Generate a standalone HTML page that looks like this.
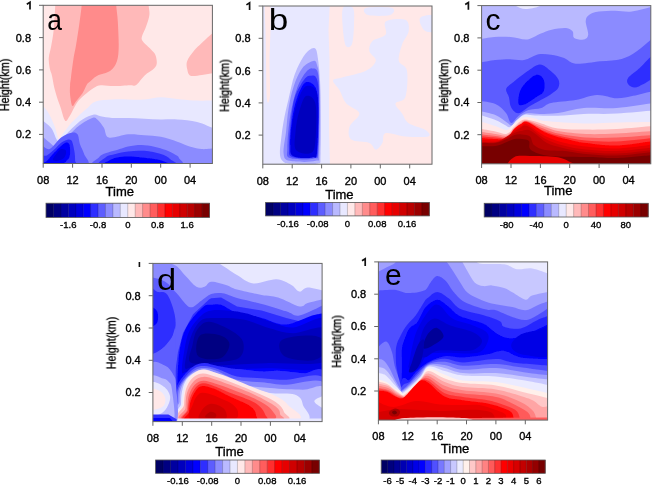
<!DOCTYPE html><html><head><meta charset="utf-8"><style>html,body{margin:0;padding:0;background:#fff;width:660px;height:487px;overflow:hidden}svg{display:block}text{font-family:"Liberation Sans",sans-serif;fill:#000;font-weight:normal;stroke:#000;stroke-width:0.35px}</style></head><body>
<svg width="660" height="487" viewBox="0 0 660 487">
<defs>
<clipPath id="cpa"><rect x="43.2" y="5.3" width="169.2" height="158.2"/></clipPath>
<clipPath id="cpb"><rect x="262.8" y="6.0" width="169.2" height="158.2"/></clipPath>
<clipPath id="cpc"><rect x="481.6" y="5.6" width="169.2" height="158.2"/></clipPath>
<clipPath id="cpd"><rect x="152.9" y="263.4" width="169.2" height="158.2"/></clipPath>
<clipPath id="cpe"><rect x="378.4" y="261.9" width="169.2" height="158.2"/></clipPath>
<filter id="bl" x="-5%" y="-5%" width="110%" height="110%"><feGaussianBlur stdDeviation="0.6"/></filter>
<filter id="tb" x="-20%" y="-20%" width="140%" height="140%"><feGaussianBlur stdDeviation="0.35"/></filter>
</defs>
<g clip-path="url(#cpa)"><g filter="url(#bl)">
<rect x="40.2" y="2.3" width="175.2" height="164.2" fill="#ffe8e8"/>
<path d="M56.0,-8.0 C40.5,-5.8 55.7,-1.3 55.3,5.0 C54.9,11.3 54.4,22.9 53.7,29.7 C53.0,36.5 52.0,41.5 51.2,46.1 C50.4,50.8 49.1,54.0 48.8,57.6 C48.5,61.2 49.1,64.5 49.6,67.5 C50.1,70.5 51.3,72.8 52.0,75.7 C52.7,78.6 53.0,81.8 53.7,85.0 C54.4,88.2 55.2,91.3 56.3,95.0 C57.4,98.7 59.0,103.0 60.5,107.3 C62.0,111.6 63.6,119.2 65.1,120.7 C66.6,122.2 67.7,119.0 69.7,116.0 C71.7,113.0 74.5,106.2 77.0,102.7 C79.5,99.2 81.6,97.5 84.4,95.0 C87.2,92.5 90.8,89.5 93.6,87.9 C96.4,86.3 97.6,85.5 101.0,85.2 C104.4,84.9 109.1,86.1 113.9,86.1 C118.7,86.1 126.3,85.4 130.0,85.2 C133.7,85.0 133.8,86.6 136.2,85.0 C138.6,83.4 141.4,78.5 144.4,75.7 C147.4,72.9 152.2,70.5 154.3,68.3 C156.4,66.1 156.7,64.9 156.8,62.6 C156.9,60.3 156.1,56.5 155.1,54.3 C154.1,52.1 153.1,51.6 151.0,49.4 C148.9,47.2 144.3,43.4 142.8,41.2 C141.3,39.0 141.4,38.7 142.0,36.2 C142.6,33.7 144.9,29.9 146.1,26.4 C147.3,22.8 149.0,18.5 149.4,14.9 C149.8,11.3 148.8,8.8 148.6,5.0 C148.4,1.2 163.4,-5.8 148.0,-8.0 C132.6,-10.2 71.5,-10.2 56.0,-8.0Z" fill="#ffb9b9"/>
<path d="M216.0,33.0 C215.5,26.3 215.3,31.4 213.0,33.0 C210.7,34.6 205.2,39.8 202.0,42.8 C198.8,45.8 196.3,48.0 193.8,51.0 C191.3,54.0 188.3,58.0 187.2,61.0 C186.1,64.0 186.6,66.5 187.2,69.0 C187.8,71.5 188.0,74.7 190.5,75.7 C193.0,76.7 198.2,75.3 202.0,74.9 C205.8,74.5 210.7,73.6 213.0,73.3 C215.3,73.0 215.5,79.7 216.0,73.0 C216.5,66.3 216.5,39.7 216.0,33.0Z" fill="#ffb9b9"/>
<path d="M82.0,-8.0 C76.3,-5.8 82.2,-0.5 81.7,5.0 C81.2,10.4 80.2,17.9 79.2,24.7 C78.2,31.5 76.9,40.3 75.9,46.1 C74.9,51.9 74.2,54.1 73.4,59.3 C72.6,64.5 71.5,73.1 71.0,77.4 C70.5,81.7 70.2,82.1 70.1,85.0 C69.9,87.9 69.7,91.4 70.1,94.9 C70.5,98.4 71.3,104.7 72.3,105.8 C73.3,106.9 74.2,103.5 75.9,101.4 C77.6,99.3 80.7,95.9 82.5,93.2 C84.3,90.5 85.5,86.8 86.6,85.0 C87.7,83.2 87.3,83.8 89.1,82.3 C90.9,80.8 93.8,77.6 97.3,75.7 C100.8,73.8 107.1,73.3 110.4,70.8 C113.7,68.3 115.6,65.0 117.0,60.9 C118.4,56.8 118.6,52.7 118.7,46.1 C118.8,39.5 118.2,28.2 117.8,21.4 C117.4,14.5 116.5,9.9 116.2,5.0 C115.9,0.1 121.7,-5.8 116.0,-8.0 C110.3,-10.2 87.7,-10.2 82.0,-8.0Z" fill="#ff8b8b"/>
<path d="M40.0,103.0 C41.3,104.5 45.5,108.2 47.9,112.0 C50.3,115.8 52.7,121.6 54.5,126.1 C56.3,130.6 57.4,137.5 58.6,139.0 C59.9,140.5 60.1,137.4 62.0,135.0 C63.9,132.6 66.9,128.1 69.7,124.8 C72.5,121.5 76.0,118.2 78.9,115.5 C81.8,112.8 84.3,110.6 87.1,108.3 C89.9,106.0 91.4,103.0 95.6,101.5 C99.8,100.0 106.7,99.8 112.1,99.5 C117.5,99.2 122.6,99.4 128.0,99.4 C133.4,99.4 138.9,99.9 144.4,99.6 C149.9,99.2 155.4,97.4 160.9,97.3 C166.4,97.2 171.8,98.5 177.3,99.0 C182.8,99.5 187.5,100.3 193.8,100.6 C200.1,100.9 211.5,100.6 215.0,100.6 L215.0,167.5 L40.0,167.5Z" fill="#e8e8ff"/>
<path d="M40.0,118.5 C41.9,120.1 48.2,124.3 51.2,128.0 C54.2,131.7 55.6,139.6 57.8,140.9 C60.0,142.2 61.9,138.2 64.4,136.0 C66.9,133.8 69.6,130.6 72.6,127.8 C75.6,125.0 78.9,121.7 82.5,119.5 C86.1,117.3 91.0,115.1 94.0,114.6 C97.0,114.1 97.6,115.8 100.6,116.3 C103.6,116.8 107.5,117.6 112.1,117.9 C116.7,118.2 122.6,117.8 128.0,117.9 C133.4,118.0 138.9,118.4 144.4,118.7 C149.9,119.0 155.4,119.4 160.9,119.5 C166.4,119.6 171.3,119.1 177.3,119.5 C183.3,119.9 190.8,120.4 197.1,122.0 C203.4,123.6 212.0,127.8 215.0,129.0 L215.0,167.5 L40.0,167.5Z" fill="#b9b9ff"/>
<path d="M40.0,134.3 C41.6,135.7 47.1,140.6 49.6,142.6 C52.1,144.6 53.3,146.3 55.0,146.5 C56.7,146.7 57.7,145.3 60.0,143.5 C62.3,141.7 65.5,138.5 68.7,135.5 C71.9,132.5 75.3,128.4 79.2,125.5 C83.1,122.6 89.3,119.0 92.3,118.0 C95.3,117.0 95.4,117.9 97.3,119.5 C99.2,121.1 102.0,124.8 103.9,127.8 C105.8,130.8 104.8,136.5 108.8,137.6 C112.8,138.7 122.1,134.7 128.0,134.3 C133.9,133.9 138.9,134.8 144.4,135.2 C149.9,135.6 155.4,135.7 160.9,136.8 C166.4,137.9 172.4,140.0 177.3,141.7 C182.2,143.3 186.4,145.5 190.5,146.7 C194.6,147.9 197.9,148.8 202.0,149.1 C206.1,149.4 212.8,148.4 215.0,148.3 L215.0,167.5 L40.0,167.5Z" fill="#8b8bff"/>
<path d="M40.0,146.0 C41.6,143.2 46.1,150.5 49.6,149.1 C53.1,147.7 57.4,140.3 61.1,137.6 C64.8,134.9 69.1,133.2 71.8,132.7 C74.5,132.1 76.1,132.4 77.5,134.3 C78.9,136.2 78.9,140.9 80.0,144.2 C81.1,147.5 83.1,150.5 84.1,154.1 C85.1,157.7 93.1,164.0 85.8,166.0 C78.5,168.0 47.6,169.3 40.0,166.0 C32.4,162.7 38.4,148.8 40.0,146.0Z" fill="#5d5dff"/>
<path d="M97.3,166.0 C84.5,164.6 97.5,159.5 98.9,157.4 C100.3,155.3 102.5,154.5 105.5,153.3 C108.5,152.1 113.2,151.1 117.0,150.0 C120.8,148.9 124.0,147.3 128.0,146.5 C132.0,145.7 136.8,145.0 141.2,145.0 C145.6,145.0 150.2,145.9 154.3,146.7 C158.4,147.5 162.5,148.8 165.8,150.0 C169.1,151.2 171.9,152.8 174.1,154.1 C176.3,155.4 178.7,156.0 179.0,158.0 C179.3,160.0 189.6,164.7 176.0,166.0 C162.4,167.3 110.1,167.4 97.3,166.0Z" fill="#5d5dff"/>
<path d="M40.0,155.7 C41.0,154.0 44.1,156.5 46.3,155.7 C48.4,154.9 50.2,153.1 52.9,150.8 C55.6,148.5 59.7,143.5 62.7,141.7 C65.7,139.9 69.1,138.6 71.0,140.1 C72.9,141.6 73.6,147.4 74.3,150.8 C75.0,154.2 75.1,158.2 75.1,160.7 C75.0,163.2 79.8,165.1 74.0,166.0 C68.2,166.9 45.7,167.7 40.0,166.0 C34.3,164.3 39.0,157.4 40.0,155.7Z" fill="#2e2eff"/>
<path d="M103.0,166.0 C91.9,164.6 103.4,159.4 105.5,157.4 C107.6,155.4 111.7,155.1 115.4,154.1 C119.2,153.1 123.2,152.1 128.0,151.6 C132.8,151.1 138.9,150.4 144.4,150.8 C149.9,151.2 156.6,152.7 160.9,154.1 C165.2,155.5 168.2,157.0 170.0,159.0 C171.8,161.0 183.2,164.8 172.0,166.0 C160.8,167.2 114.1,167.4 103.0,166.0Z" fill="#2e2eff"/>
<path d="M40.0,163.0 C41.0,162.2 44.1,163.0 46.3,161.5 C48.4,160.0 50.7,156.4 52.9,154.1 C55.1,151.8 57.2,149.4 59.4,147.5 C61.6,145.6 64.3,143.2 66.0,142.6 C67.7,142.0 68.6,142.8 69.3,144.2 C70.0,145.6 70.1,148.6 70.1,150.8 C70.1,153.0 70.2,155.4 69.3,157.4 C68.3,159.4 65.6,161.7 64.4,163.1 C63.2,164.5 66.1,165.5 62.0,166.0 C57.9,166.5 43.7,166.5 40.0,166.0 C36.3,165.5 39.0,163.8 40.0,163.0Z" fill="#0000ff"/>
<path d="M106.0,166.0 C96.5,165.1 107.0,162.1 108.8,160.7 C110.6,159.3 113.8,158.1 117.0,157.4 C120.2,156.7 124.0,156.5 128.0,156.5 C132.0,156.5 136.8,157.0 141.2,157.4 C145.6,157.8 150.5,158.3 154.3,159.0 C158.1,159.7 162.2,160.3 164.2,161.5 C166.1,162.7 175.7,165.2 166.0,166.0 C156.3,166.8 115.5,166.9 106.0,166.0Z" fill="#0000ff"/>
<path d="M56.2,154.1 C57.6,152.3 59.5,149.6 61.1,149.1 C62.7,148.6 65.5,149.4 66.0,150.8 C66.5,152.2 65.8,155.8 64.4,157.4 C63.0,159.1 59.7,160.3 57.8,160.7 C55.9,161.1 53.2,160.9 52.9,159.8 C52.6,158.7 54.8,155.9 56.2,154.1Z" fill="#0000de"/>
</g></g>
<rect x="43.2" y="5.3" width="169.2" height="158.2" fill="none" stroke="#666" stroke-width="1"/>
<line x1="43.2" y1="163.5" x2="43.2" y2="167.7" stroke="#666" stroke-width="1"/>
<text filter="url(#tb)" x="43.2" y="183.8" font-size="11" text-anchor="middle">08</text>
<line x1="72.6" y1="163.5" x2="72.6" y2="167.7" stroke="#666" stroke-width="1"/>
<text filter="url(#tb)" x="72.6" y="183.8" font-size="11" text-anchor="middle">12</text>
<line x1="102.0" y1="163.5" x2="102.0" y2="167.7" stroke="#666" stroke-width="1"/>
<text filter="url(#tb)" x="102.0" y="183.8" font-size="11" text-anchor="middle">16</text>
<line x1="131.3" y1="163.5" x2="131.3" y2="167.7" stroke="#666" stroke-width="1"/>
<text filter="url(#tb)" x="131.3" y="183.8" font-size="11" text-anchor="middle">20</text>
<line x1="160.7" y1="163.5" x2="160.7" y2="167.7" stroke="#666" stroke-width="1"/>
<text filter="url(#tb)" x="160.7" y="183.8" font-size="11" text-anchor="middle">00</text>
<line x1="190.1" y1="163.5" x2="190.1" y2="167.7" stroke="#666" stroke-width="1"/>
<text filter="url(#tb)" x="190.1" y="183.8" font-size="11" text-anchor="middle">04</text>
<line x1="39.0" y1="134.4" x2="43.2" y2="134.4" stroke="#666" stroke-width="1"/>
<text filter="url(#tb)" x="31.0" y="138.3" font-size="11" text-anchor="end">0.2</text>
<line x1="39.0" y1="102.2" x2="43.2" y2="102.2" stroke="#666" stroke-width="1"/>
<text filter="url(#tb)" x="31.0" y="106.1" font-size="11" text-anchor="end">0.4</text>
<line x1="39.0" y1="69.9" x2="43.2" y2="69.9" stroke="#666" stroke-width="1"/>
<text filter="url(#tb)" x="31.0" y="73.8" font-size="11" text-anchor="end">0.6</text>
<line x1="39.0" y1="37.6" x2="43.2" y2="37.6" stroke="#666" stroke-width="1"/>
<text filter="url(#tb)" x="31.0" y="41.5" font-size="11" text-anchor="end">0.8</text>
<line x1="39.0" y1="5.3" x2="43.2" y2="5.3" stroke="#666" stroke-width="1"/>
<path d="M26.8,4.2 L30.0,2.2 L30.0,9.4" fill="none" stroke="#111" stroke-width="1.7"/>
<text filter="url(#tb)" x="119.8" y="195.5" font-size="13" text-anchor="middle">Time</text>
<text filter="url(#tb)" x="0" y="0" font-size="12" textLength="52.5" lengthAdjust="spacingAndGlyphs" style="font-weight:normal" text-anchor="middle" transform="translate(8.9,84.9) rotate(-90)">Height(km)</text>
<text filter="url(#tb)" x="47.3" y="30.0" font-size="30" style="font-weight:normal;stroke-width:0" transform="translate(5.68,0) scale(0.88,1)">a</text>
<rect x="46.00" y="203.2" width="7.73" height="14.2" fill="#000064"/>
<rect x="53.43" y="203.2" width="7.73" height="14.2" fill="#000082"/>
<rect x="60.86" y="203.2" width="7.73" height="14.2" fill="#0000a0"/>
<rect x="68.30" y="203.2" width="7.73" height="14.2" fill="#0000be"/>
<rect x="75.73" y="203.2" width="7.73" height="14.2" fill="#0000de"/>
<rect x="83.16" y="203.2" width="7.73" height="14.2" fill="#0000ff"/>
<rect x="90.59" y="203.2" width="7.73" height="14.2" fill="#2e2eff"/>
<rect x="98.02" y="203.2" width="7.73" height="14.2" fill="#5d5dff"/>
<rect x="105.45" y="203.2" width="7.73" height="14.2" fill="#8b8bff"/>
<rect x="112.89" y="203.2" width="7.73" height="14.2" fill="#b9b9ff"/>
<rect x="120.32" y="203.2" width="7.73" height="14.2" fill="#e8e8ff"/>
<rect x="127.75" y="203.2" width="7.73" height="14.2" fill="#ffe8e8"/>
<rect x="135.18" y="203.2" width="7.73" height="14.2" fill="#ffb9b9"/>
<rect x="142.61" y="203.2" width="7.73" height="14.2" fill="#ff8b8b"/>
<rect x="150.05" y="203.2" width="7.73" height="14.2" fill="#ff5d5d"/>
<rect x="157.48" y="203.2" width="7.73" height="14.2" fill="#ff2e2e"/>
<rect x="164.91" y="203.2" width="7.73" height="14.2" fill="#ff0000"/>
<rect x="172.34" y="203.2" width="7.73" height="14.2" fill="#e60000"/>
<rect x="179.77" y="203.2" width="7.73" height="14.2" fill="#cf0000"/>
<rect x="187.20" y="203.2" width="7.73" height="14.2" fill="#b80000"/>
<rect x="194.64" y="203.2" width="7.73" height="14.2" fill="#9b0000"/>
<rect x="202.07" y="203.2" width="7.73" height="14.2" fill="#780000"/>
<line x1="53.43" y1="203.2" x2="53.43" y2="217.4" stroke="#000" stroke-opacity="0.25" stroke-width="0.8"/>
<line x1="60.86" y1="203.2" x2="60.86" y2="217.4" stroke="#000" stroke-opacity="0.25" stroke-width="0.8"/>
<line x1="68.30" y1="203.2" x2="68.30" y2="217.4" stroke="#000" stroke-opacity="0.25" stroke-width="0.8"/>
<line x1="75.73" y1="203.2" x2="75.73" y2="217.4" stroke="#000" stroke-opacity="0.25" stroke-width="0.8"/>
<line x1="83.16" y1="203.2" x2="83.16" y2="217.4" stroke="#000" stroke-opacity="0.25" stroke-width="0.8"/>
<line x1="90.59" y1="203.2" x2="90.59" y2="217.4" stroke="#000" stroke-opacity="0.25" stroke-width="0.8"/>
<line x1="98.02" y1="203.2" x2="98.02" y2="217.4" stroke="#000" stroke-opacity="0.25" stroke-width="0.8"/>
<line x1="105.45" y1="203.2" x2="105.45" y2="217.4" stroke="#000" stroke-opacity="0.25" stroke-width="0.8"/>
<line x1="112.89" y1="203.2" x2="112.89" y2="217.4" stroke="#000" stroke-opacity="0.25" stroke-width="0.8"/>
<line x1="120.32" y1="203.2" x2="120.32" y2="217.4" stroke="#000" stroke-opacity="0.25" stroke-width="0.8"/>
<line x1="127.75" y1="203.2" x2="127.75" y2="217.4" stroke="#000" stroke-opacity="0.25" stroke-width="0.8"/>
<line x1="135.18" y1="203.2" x2="135.18" y2="217.4" stroke="#000" stroke-opacity="0.25" stroke-width="0.8"/>
<line x1="142.61" y1="203.2" x2="142.61" y2="217.4" stroke="#000" stroke-opacity="0.25" stroke-width="0.8"/>
<line x1="150.05" y1="203.2" x2="150.05" y2="217.4" stroke="#000" stroke-opacity="0.25" stroke-width="0.8"/>
<line x1="157.48" y1="203.2" x2="157.48" y2="217.4" stroke="#000" stroke-opacity="0.25" stroke-width="0.8"/>
<line x1="164.91" y1="203.2" x2="164.91" y2="217.4" stroke="#000" stroke-opacity="0.25" stroke-width="0.8"/>
<line x1="172.34" y1="203.2" x2="172.34" y2="217.4" stroke="#000" stroke-opacity="0.25" stroke-width="0.8"/>
<line x1="179.77" y1="203.2" x2="179.77" y2="217.4" stroke="#000" stroke-opacity="0.25" stroke-width="0.8"/>
<line x1="187.20" y1="203.2" x2="187.20" y2="217.4" stroke="#000" stroke-opacity="0.25" stroke-width="0.8"/>
<line x1="194.64" y1="203.2" x2="194.64" y2="217.4" stroke="#000" stroke-opacity="0.25" stroke-width="0.8"/>
<line x1="202.07" y1="203.2" x2="202.07" y2="217.4" stroke="#000" stroke-opacity="0.25" stroke-width="0.8"/>
<rect x="46.0" y="203.2" width="163.5" height="14.2" fill="none" stroke="#555" stroke-width="0.8"/>
<text filter="url(#tb)" x="68.3" y="228.0" font-size="9.5" text-anchor="middle">-1.6</text>
<text filter="url(#tb)" x="98.0" y="228.0" font-size="9.5" text-anchor="middle">-0.8</text>
<text filter="url(#tb)" x="127.8" y="228.0" font-size="9.5" text-anchor="middle">0</text>
<text filter="url(#tb)" x="157.5" y="228.0" font-size="9.5" text-anchor="middle">0.8</text>
<text filter="url(#tb)" x="187.2" y="228.0" font-size="9.5" text-anchor="middle">1.6</text>
<g clip-path="url(#cpb)"><g filter="url(#bl)">
<rect x="259.8" y="3.0" width="175.2" height="164.2" fill="#e8e8ff"/>
<path d="M330.0,0.0 L328.5,30.0 L329.5,60.0 L329.0,100.0 L329.0,130.0 L330.0,170.0 L436.0,170.0 L436.0,0.0Z" fill="#ffe8e8"/>
<path d="M265.0,4.0 C265.8,-0.3 269.1,-0.3 270.0,4.0 C270.9,8.3 270.6,20.7 270.5,30.0 C270.4,39.3 269.6,49.2 269.5,60.0 C269.4,70.8 270.4,88.3 270.0,95.0 C269.6,101.7 267.7,105.8 267.0,100.0 C266.3,94.2 266.2,71.7 266.0,60.0 C265.8,48.3 265.7,39.3 265.5,30.0 C265.3,20.7 264.2,8.3 265.0,4.0Z" fill="#ffe8e8"/>
<path d="M385.7,21.4 C389.0,18.9 401.6,18.1 405.4,19.8 C409.2,21.5 409.2,27.2 408.7,31.3 C408.1,35.4 403.8,39.5 402.1,44.4 C400.5,49.3 398.0,56.4 398.8,60.8 C399.6,65.2 405.9,64.7 407.0,70.7 C408.1,76.7 407.3,91.5 405.4,97.0 C403.5,102.5 396.1,100.8 395.5,103.5 C394.9,106.2 399.9,110.1 402.1,113.4 C404.3,116.7 404.9,120.5 408.7,123.2 C412.5,125.9 421.8,127.6 425.1,129.8 C428.4,132.0 431.7,135.3 428.4,136.4 C425.1,137.5 412.5,137.0 405.4,136.4 C398.3,135.8 389.5,132.0 385.7,133.1 C381.9,134.2 384.0,140.2 382.4,142.9 C380.8,145.6 378.0,149.5 375.8,149.5 C373.6,149.5 373.4,144.6 369.3,142.9 C365.2,141.2 354.5,142.3 351.2,139.6 C347.9,136.9 348.2,130.9 349.6,126.5 C351.0,122.1 359.9,117.2 359.4,113.4 C358.8,109.6 349.6,107.3 346.3,103.5 C343.0,99.7 341.9,94.2 339.7,90.4 C337.5,86.6 332.6,82.7 333.1,80.5 C333.7,78.3 337.5,78.8 343.0,77.2 C348.5,75.6 360.5,73.4 366.0,70.7 C371.5,68.0 375.2,64.1 375.8,60.8 C376.4,57.5 369.9,54.3 369.3,51.0 C368.8,47.7 369.8,43.8 372.5,41.1 C375.2,38.4 383.5,37.9 385.7,34.6 C387.9,31.3 382.4,23.9 385.7,21.4Z" fill="#e8e8ff"/>
<path d="M343.0,8.0 C344.7,4.3 351.2,5.2 353.0,8.0 C354.8,10.8 354.2,19.0 354.0,25.0 C353.8,31.0 353.3,40.5 352.0,44.0 C350.7,47.5 347.5,48.3 346.0,46.0 C344.5,43.7 343.5,36.3 343.0,30.0 C342.5,23.7 341.3,11.7 343.0,8.0Z" fill="#e8e8ff"/>
<path d="M366.0,8.0 C370.0,6.8 388.0,6.8 392.0,8.0 C396.0,9.2 394.0,13.8 390.0,15.0 C386.0,16.2 372.0,16.2 368.0,15.0 C364.0,13.8 362.0,9.2 366.0,8.0Z" fill="#e8e8ff"/>
<path d="M420.0,18.0 C421.7,15.7 431.7,13.8 434.0,16.0 C436.3,18.2 435.7,28.7 434.0,31.0 C432.3,33.3 426.3,32.2 424.0,30.0 C421.7,27.8 418.3,20.3 420.0,18.0Z" fill="#e8e8ff"/>
<path d="M314.4,48.0 C312.1,47.2 307.9,50.5 304.6,54.9 C301.3,59.3 297.4,67.2 294.7,74.6 C292.0,82.0 290.4,91.4 288.5,99.2 C286.6,107.0 284.8,114.8 283.6,121.4 C282.4,128.0 281.8,133.3 281.2,138.6 C280.6,143.9 279.7,149.7 279.9,153.4 C280.1,157.1 280.8,159.1 282.4,160.8 C284.0,162.5 284.1,163.1 289.8,163.6 C295.6,164.1 311.8,165.3 316.9,163.6 C322.0,161.9 320.0,165.0 320.6,153.4 C321.2,141.8 321.0,109.9 320.6,94.3 C320.2,78.7 319.1,67.5 318.1,59.8 C317.1,52.1 316.6,48.8 314.4,48.0Z" fill="#b9b9ff"/>
<path d="M313.2,61.0 C310.7,61.6 305.4,64.1 302.1,68.4 C298.8,72.7 295.8,80.1 293.5,86.9 C291.2,93.7 289.7,101.6 288.5,109.0 C287.3,116.4 286.9,123.8 286.1,131.2 C285.3,138.6 283.0,148.5 283.6,153.4 C284.2,158.3 284.5,159.6 289.8,160.8 C295.1,162.0 310.7,162.5 315.6,160.8 C320.5,159.2 318.7,164.1 319.3,150.9 C319.9,137.8 319.7,96.3 319.3,81.9 C318.9,67.5 317.9,68.2 316.9,64.7 C315.9,61.2 315.7,60.4 313.2,61.0Z" fill="#8b8bff"/>
<path d="M312.0,68.4 C309.4,67.8 306.0,71.9 303.3,75.8 C300.6,79.7 298.1,84.6 295.9,91.8 C293.6,99.0 291.2,109.5 289.8,118.9 C288.4,128.3 287.3,141.9 287.3,148.4 C287.3,154.9 285.6,156.3 290.0,158.0 C294.4,159.7 309.2,160.0 314.0,158.5 C318.8,157.0 317.7,162.2 318.5,149.0 C319.3,135.8 319.9,92.9 318.8,79.5 C317.7,66.1 314.6,69.0 312.0,68.4Z" fill="#5d5dff"/>
<path d="M309.5,75.8 C306.6,75.7 303.5,80.4 300.9,84.4 C298.3,88.4 295.7,93.2 294.0,100.0 C292.3,106.8 291.3,117.0 290.5,125.0 C289.7,133.0 288.8,142.7 289.0,148.0 C289.2,153.3 288.0,155.4 292.0,157.0 C296.0,158.6 308.7,158.8 313.0,157.5 C317.3,156.2 317.1,161.1 318.0,149.0 C318.9,136.9 319.6,97.2 318.2,85.0 C316.8,72.8 312.4,75.9 309.5,75.8Z" fill="#2e2eff"/>
<path d="M307.0,81.9 C303.8,81.9 300.9,88.1 298.4,94.3 C295.9,100.5 293.5,110.7 292.2,118.9 C290.9,127.1 290.1,137.3 290.3,143.5 C290.5,149.7 289.9,153.5 293.5,155.8 C297.1,158.1 308.1,157.9 312.0,157.1 C315.9,156.3 316.0,161.4 316.9,150.9 C317.8,140.4 319.0,105.8 317.4,94.3 C315.8,82.8 310.2,81.9 307.0,81.9Z" fill="#0000ff"/>
<path d="M306.5,86.0 C303.2,86.7 300.3,94.0 298.0,100.0 C295.7,106.0 293.8,114.5 292.5,122.0 C291.2,129.5 290.4,139.3 290.5,145.0 C290.6,150.7 289.4,153.9 293.0,156.0 C296.6,158.1 308.0,158.5 312.0,157.5 C316.0,156.5 316.1,160.2 317.0,150.0 C317.9,139.8 319.2,106.7 317.5,96.0 C315.8,85.3 309.8,85.3 306.5,86.0Z" fill="#0000de"/>
<path d="M306.0,96.0 C303.2,97.3 300.8,106.0 299.0,112.0 C297.2,118.0 296.0,125.7 295.5,132.0 C295.0,138.3 293.4,146.5 296.0,150.0 C298.6,153.5 307.8,154.7 311.0,153.0 C314.2,151.3 314.8,148.2 315.5,140.0 C316.2,131.8 317.1,111.3 315.5,104.0 C313.9,96.7 308.8,94.7 306.0,96.0Z" fill="#0000be"/>
</g></g>
<rect x="262.8" y="6.0" width="169.2" height="158.2" fill="none" stroke="#666" stroke-width="1"/>
<line x1="262.8" y1="164.2" x2="262.8" y2="168.4" stroke="#666" stroke-width="1"/>
<text filter="url(#tb)" x="262.8" y="184.5" font-size="11" text-anchor="middle">08</text>
<line x1="292.2" y1="164.2" x2="292.2" y2="168.4" stroke="#666" stroke-width="1"/>
<text filter="url(#tb)" x="292.2" y="184.5" font-size="11" text-anchor="middle">12</text>
<line x1="321.6" y1="164.2" x2="321.6" y2="168.4" stroke="#666" stroke-width="1"/>
<text filter="url(#tb)" x="321.6" y="184.5" font-size="11" text-anchor="middle">16</text>
<line x1="350.9" y1="164.2" x2="350.9" y2="168.4" stroke="#666" stroke-width="1"/>
<text filter="url(#tb)" x="350.9" y="184.5" font-size="11" text-anchor="middle">20</text>
<line x1="380.3" y1="164.2" x2="380.3" y2="168.4" stroke="#666" stroke-width="1"/>
<text filter="url(#tb)" x="380.3" y="184.5" font-size="11" text-anchor="middle">00</text>
<line x1="409.7" y1="164.2" x2="409.7" y2="168.4" stroke="#666" stroke-width="1"/>
<text filter="url(#tb)" x="409.7" y="184.5" font-size="11" text-anchor="middle">04</text>
<line x1="258.6" y1="135.1" x2="262.8" y2="135.1" stroke="#666" stroke-width="1"/>
<text filter="url(#tb)" x="250.6" y="139.0" font-size="11" text-anchor="end">0.2</text>
<line x1="258.6" y1="102.9" x2="262.8" y2="102.9" stroke="#666" stroke-width="1"/>
<text filter="url(#tb)" x="250.6" y="106.8" font-size="11" text-anchor="end">0.4</text>
<line x1="258.6" y1="70.6" x2="262.8" y2="70.6" stroke="#666" stroke-width="1"/>
<text filter="url(#tb)" x="250.6" y="74.5" font-size="11" text-anchor="end">0.6</text>
<line x1="258.6" y1="38.3" x2="262.8" y2="38.3" stroke="#666" stroke-width="1"/>
<text filter="url(#tb)" x="250.6" y="42.2" font-size="11" text-anchor="end">0.8</text>
<line x1="258.6" y1="6.0" x2="262.8" y2="6.0" stroke="#666" stroke-width="1"/>
<path d="M246.4,4.9 L249.6,2.9 L249.6,10.1" fill="none" stroke="#111" stroke-width="1.7"/>
<text filter="url(#tb)" x="339.4" y="199.0" font-size="13" text-anchor="middle">Time</text>
<text filter="url(#tb)" x="0" y="0" font-size="12" textLength="52.5" lengthAdjust="spacingAndGlyphs" style="font-weight:normal" text-anchor="middle" transform="translate(228.8,85.6) rotate(-90)">Height(km)</text>
<text filter="url(#tb)" x="268.8" y="30.3" font-size="30" style="font-weight:normal;stroke-width:0" transform="translate(-45.70,0) scale(1.17,1)">b</text>
<rect x="265.60" y="202.4" width="7.74" height="13.5" fill="#000064"/>
<rect x="273.04" y="202.4" width="7.74" height="13.5" fill="#000082"/>
<rect x="280.48" y="202.4" width="7.74" height="13.5" fill="#0000a0"/>
<rect x="287.92" y="202.4" width="7.74" height="13.5" fill="#0000be"/>
<rect x="295.36" y="202.4" width="7.74" height="13.5" fill="#0000de"/>
<rect x="302.80" y="202.4" width="7.74" height="13.5" fill="#0000ff"/>
<rect x="310.25" y="202.4" width="7.74" height="13.5" fill="#2e2eff"/>
<rect x="317.69" y="202.4" width="7.74" height="13.5" fill="#5d5dff"/>
<rect x="325.13" y="202.4" width="7.74" height="13.5" fill="#8b8bff"/>
<rect x="332.57" y="202.4" width="7.74" height="13.5" fill="#b9b9ff"/>
<rect x="340.01" y="202.4" width="7.74" height="13.5" fill="#e8e8ff"/>
<rect x="347.45" y="202.4" width="7.74" height="13.5" fill="#ffe8e8"/>
<rect x="354.89" y="202.4" width="7.74" height="13.5" fill="#ffb9b9"/>
<rect x="362.33" y="202.4" width="7.74" height="13.5" fill="#ff8b8b"/>
<rect x="369.77" y="202.4" width="7.74" height="13.5" fill="#ff5d5d"/>
<rect x="377.21" y="202.4" width="7.74" height="13.5" fill="#ff2e2e"/>
<rect x="384.65" y="202.4" width="7.74" height="13.5" fill="#ff0000"/>
<rect x="392.10" y="202.4" width="7.74" height="13.5" fill="#e60000"/>
<rect x="399.54" y="202.4" width="7.74" height="13.5" fill="#cf0000"/>
<rect x="406.98" y="202.4" width="7.74" height="13.5" fill="#b80000"/>
<rect x="414.42" y="202.4" width="7.74" height="13.5" fill="#9b0000"/>
<rect x="421.86" y="202.4" width="7.74" height="13.5" fill="#780000"/>
<line x1="273.04" y1="202.4" x2="273.04" y2="215.9" stroke="#000" stroke-opacity="0.25" stroke-width="0.8"/>
<line x1="280.48" y1="202.4" x2="280.48" y2="215.9" stroke="#000" stroke-opacity="0.25" stroke-width="0.8"/>
<line x1="287.92" y1="202.4" x2="287.92" y2="215.9" stroke="#000" stroke-opacity="0.25" stroke-width="0.8"/>
<line x1="295.36" y1="202.4" x2="295.36" y2="215.9" stroke="#000" stroke-opacity="0.25" stroke-width="0.8"/>
<line x1="302.80" y1="202.4" x2="302.80" y2="215.9" stroke="#000" stroke-opacity="0.25" stroke-width="0.8"/>
<line x1="310.25" y1="202.4" x2="310.25" y2="215.9" stroke="#000" stroke-opacity="0.25" stroke-width="0.8"/>
<line x1="317.69" y1="202.4" x2="317.69" y2="215.9" stroke="#000" stroke-opacity="0.25" stroke-width="0.8"/>
<line x1="325.13" y1="202.4" x2="325.13" y2="215.9" stroke="#000" stroke-opacity="0.25" stroke-width="0.8"/>
<line x1="332.57" y1="202.4" x2="332.57" y2="215.9" stroke="#000" stroke-opacity="0.25" stroke-width="0.8"/>
<line x1="340.01" y1="202.4" x2="340.01" y2="215.9" stroke="#000" stroke-opacity="0.25" stroke-width="0.8"/>
<line x1="347.45" y1="202.4" x2="347.45" y2="215.9" stroke="#000" stroke-opacity="0.25" stroke-width="0.8"/>
<line x1="354.89" y1="202.4" x2="354.89" y2="215.9" stroke="#000" stroke-opacity="0.25" stroke-width="0.8"/>
<line x1="362.33" y1="202.4" x2="362.33" y2="215.9" stroke="#000" stroke-opacity="0.25" stroke-width="0.8"/>
<line x1="369.77" y1="202.4" x2="369.77" y2="215.9" stroke="#000" stroke-opacity="0.25" stroke-width="0.8"/>
<line x1="377.21" y1="202.4" x2="377.21" y2="215.9" stroke="#000" stroke-opacity="0.25" stroke-width="0.8"/>
<line x1="384.65" y1="202.4" x2="384.65" y2="215.9" stroke="#000" stroke-opacity="0.25" stroke-width="0.8"/>
<line x1="392.10" y1="202.4" x2="392.10" y2="215.9" stroke="#000" stroke-opacity="0.25" stroke-width="0.8"/>
<line x1="399.54" y1="202.4" x2="399.54" y2="215.9" stroke="#000" stroke-opacity="0.25" stroke-width="0.8"/>
<line x1="406.98" y1="202.4" x2="406.98" y2="215.9" stroke="#000" stroke-opacity="0.25" stroke-width="0.8"/>
<line x1="414.42" y1="202.4" x2="414.42" y2="215.9" stroke="#000" stroke-opacity="0.25" stroke-width="0.8"/>
<line x1="421.86" y1="202.4" x2="421.86" y2="215.9" stroke="#000" stroke-opacity="0.25" stroke-width="0.8"/>
<rect x="265.6" y="202.4" width="163.7" height="13.5" fill="none" stroke="#555" stroke-width="0.8"/>
<text filter="url(#tb)" x="287.9" y="226.5" font-size="9.5" text-anchor="middle">-0.16</text>
<text filter="url(#tb)" x="317.7" y="226.5" font-size="9.5" text-anchor="middle">-0.08</text>
<text filter="url(#tb)" x="347.5" y="226.5" font-size="9.5" text-anchor="middle">0</text>
<text filter="url(#tb)" x="377.2" y="226.5" font-size="9.5" text-anchor="middle">0.08</text>
<text filter="url(#tb)" x="407.0" y="226.5" font-size="9.5" text-anchor="middle">0.16</text>
<g clip-path="url(#cpc)"><g filter="url(#bl)">
<rect x="478.6" y="2.6" width="175.2" height="164.2" fill="#b9b9ff"/>
<path d="M510.0,2.0 C505.7,2.7 513.4,4.8 516.0,6.0 C518.6,7.2 521.6,9.0 525.4,9.1 C529.2,9.2 535.8,7.8 538.6,6.6 C541.4,5.4 546.8,2.8 542.0,2.0 C537.2,1.2 514.3,1.3 510.0,2.0Z" fill="#e8e8ff"/>
<path d="M479.0,39.5 C481.5,39.1 488.9,37.5 494.2,37.1 C499.5,36.7 505.1,36.7 510.6,37.1 C516.1,37.5 522.2,40.0 527.1,39.5 C532.0,39.0 536.1,35.4 540.2,33.8 C544.3,32.2 547.4,30.7 551.7,29.7 C556.0,28.7 562.5,27.7 566.0,28.0 C569.5,28.3 571.2,29.7 572.6,31.3 C574.0,33.0 572.3,36.5 574.2,37.9 C576.1,39.3 581.8,40.0 584.1,39.5 C586.4,39.0 587.9,37.6 588.2,34.6 C588.5,31.6 585.6,24.7 585.7,21.4 C585.8,18.1 586.8,16.5 589.0,14.9 C591.2,13.3 594.5,12.3 598.9,11.6 C603.3,10.9 609.8,10.8 615.3,10.8 C620.8,10.8 625.5,12.3 631.8,11.6 C638.1,10.9 649.5,7.4 653.0,6.6 L653.0,167.8 L479.0,167.8Z" fill="#8b8bff"/>
<path d="M479.0,62.9 C481.7,62.4 490.3,60.7 495.4,60.1 C500.5,59.5 504.9,59.3 509.7,59.3 C514.5,59.3 519.3,60.9 524.1,60.1 C528.9,59.3 534.0,55.2 538.5,54.3 C543.0,53.4 546.7,54.2 551.0,54.8 C555.3,55.4 560.0,56.6 564.1,58.1 C568.2,59.6 569.6,63.3 575.6,63.8 C581.6,64.3 592.6,62.1 600.3,61.3 C608.0,60.5 615.6,60.5 621.6,58.9 C627.6,57.3 631.2,55.0 636.4,51.5 C641.6,48.0 650.2,40.2 653.0,38.0 L653.0,167.8 L479.0,167.8Z" fill="#5d5dff"/>
<path d="M506.2,88.8 C507.1,86.2 510.6,84.5 514.1,81.6 C517.6,78.7 522.7,74.5 527.0,71.6 C531.3,68.7 535.9,64.5 539.9,64.4 C543.9,64.3 547.9,68.7 551.0,71.2 C554.1,73.7 557.2,76.7 558.4,79.4 C559.6,82.1 559.6,85.1 558.4,87.6 C557.2,90.1 555.7,91.1 551.0,94.2 C546.3,97.3 535.4,102.8 530.0,106.0 C524.6,109.2 521.5,113.0 518.4,113.2 C515.3,113.5 512.8,110.1 511.2,107.5 C509.6,104.9 509.8,100.5 509.0,97.4 C508.2,94.3 505.3,91.4 506.2,88.8Z" fill="#2e2eff"/>
<path d="M653.0,56.4 C652.7,52.6 653.2,54.5 651.0,56.4 C648.8,58.3 643.5,64.3 639.7,67.9 C635.9,71.5 630.1,75.1 628.2,77.8 C626.3,80.5 627.1,82.7 628.2,84.3 C629.3,85.9 632.2,87.6 634.7,87.6 C637.2,87.6 640.3,85.7 643.0,84.3 C645.7,82.9 649.3,80.2 651.0,79.4 C652.7,78.6 652.7,83.2 653.0,79.4 C653.3,75.6 653.3,60.2 653.0,56.4Z" fill="#2e2eff"/>
<path d="M518.4,103.2 C517.9,100.6 518.8,93.2 521.2,88.8 C523.6,84.4 529.6,78.9 532.7,76.6 C535.8,74.3 538.0,74.4 539.9,75.2 C541.8,76.0 543.6,78.8 544.2,81.6 C544.8,84.3 544.9,89.1 543.5,91.7 C542.1,94.3 538.8,95.2 535.6,97.4 C532.4,99.6 527.0,103.6 524.1,104.6 C521.2,105.6 518.9,105.8 518.4,103.2Z" fill="#0000ff"/>
<path d="M479.0,100.7 C481.7,101.2 490.9,102.0 495.4,104.0 C499.9,106.0 503.4,109.8 506.0,113.0 C508.6,116.2 509.1,122.5 511.2,123.0 C513.3,123.5 515.5,118.2 518.4,116.0 C521.3,113.8 524.6,111.3 528.4,110.0 C532.2,108.7 537.6,109.1 541.4,107.9 C545.2,106.7 545.3,104.3 551.0,103.0 C556.7,101.7 567.9,101.3 575.6,100.0 C583.3,98.7 590.1,95.3 597.0,95.0 C603.9,94.7 610.7,98.2 616.7,98.3 C622.7,98.4 627.1,97.0 633.1,95.8 C639.1,94.6 649.7,91.7 653.0,90.9 L653.0,167.8 L479.0,167.8Z" fill="#8b8bff"/>
<path d="M479.0,110.8 C481.7,111.5 490.8,113.1 495.4,115.1 C500.0,117.0 504.1,120.8 506.9,122.5 C509.6,124.2 510.0,126.2 511.9,125.5 C513.8,124.8 516.0,120.5 518.4,118.5 C520.8,116.5 522.4,114.2 526.0,113.5 C529.6,112.8 534.7,114.1 540.0,114.0 C545.3,113.9 550.7,114.0 558.0,113.0 C565.3,112.0 574.0,108.8 583.8,108.0 C593.6,107.2 605.2,108.8 616.7,108.0 C628.2,107.2 647.0,103.8 653.0,103.0 L653.0,167.8 L479.0,167.8Z" fill="#b9b9ff"/>
<path d="M479.0,114.5 C481.7,115.4 491.1,118.2 495.4,120.0 C499.7,121.8 502.6,123.8 505.0,125.0 C507.4,126.2 508.0,127.8 510.0,127.0 C512.0,126.2 514.5,122.0 517.0,120.0 C519.5,118.0 521.8,115.5 524.8,114.8 C527.8,114.0 529.5,115.3 535.0,115.5 C540.5,115.7 549.9,116.0 558.0,115.8 C566.1,115.5 574.0,114.4 583.8,114.0 C593.6,113.6 605.2,114.2 616.7,113.6 C628.2,113.0 647.0,111.1 653.0,110.6 L653.0,167.8 L479.0,167.8Z" fill="#e8e8ff"/>
<path d="M479.0,121.0 C481.7,121.8 490.8,124.5 495.4,126.0 C500.0,127.5 503.7,130.3 506.8,130.0 C509.9,129.7 511.8,125.8 514.0,124.0 C516.2,122.2 518.0,120.2 520.0,119.0 C522.0,117.8 523.5,117.1 526.0,117.0 C528.5,116.9 531.8,117.8 535.0,118.5 C538.2,119.2 537.2,120.2 545.4,121.0 C553.6,121.8 572.1,123.2 584.0,123.5 C595.9,123.8 605.2,122.8 616.7,122.5 C628.2,122.2 647.0,122.1 653.0,122.0 L653.0,167.8 L479.0,167.8Z" fill="#ffe8e8"/>
<path d="M479.0,128.6 C481.7,129.1 490.8,130.6 495.4,131.5 C500.0,132.4 503.7,134.6 506.8,133.8 C509.9,133.1 511.8,129.1 514.0,127.0 C516.2,125.0 518.0,122.7 520.0,121.5 C522.0,120.3 522.7,119.3 526.0,119.6 C529.3,119.8 534.7,121.5 540.0,123.0 C545.3,124.5 550.3,127.5 558.0,128.6 C565.7,129.7 576.2,129.5 586.0,129.6 C595.8,129.7 605.5,129.6 616.7,129.0 C627.9,128.4 647.0,126.5 653.0,126.0 L653.0,167.8 L479.0,167.8Z" fill="#ffb9b9"/>
<path d="M479.0,131.5 C481.7,131.9 490.8,133.3 495.4,134.0 C500.0,134.7 503.7,136.4 506.8,135.5 C509.9,134.6 511.7,130.6 514.0,128.5 C516.3,126.4 518.4,124.3 520.5,123.0 C522.6,121.7 523.1,120.1 526.5,120.5 C529.9,120.9 535.8,123.8 541.0,125.5 C546.2,127.2 550.5,129.6 558.0,131.0 C565.5,132.4 576.2,133.6 586.0,134.0 C595.8,134.4 605.5,134.0 616.7,133.5 C627.9,133.0 647.0,131.4 653.0,131.0 L653.0,167.8 L479.0,167.8Z" fill="#ff8b8b"/>
<path d="M479.0,134.0 C481.7,134.3 490.8,135.5 495.4,136.0 C500.0,136.5 503.7,138.1 506.8,137.0 C509.9,135.9 511.6,131.7 514.0,129.5 C516.4,127.3 518.8,125.4 521.0,124.0 C523.2,122.6 523.5,120.5 527.0,121.2 C530.5,121.9 536.8,126.0 542.0,128.0 C547.2,130.1 550.7,131.9 558.0,133.5 C565.3,135.1 576.2,136.8 586.0,137.5 C595.8,138.2 605.5,137.9 616.7,137.5 C627.9,137.1 647.0,135.4 653.0,135.0 L653.0,167.8 L479.0,167.8Z" fill="#ff5d5d"/>
<path d="M479.0,136.0 C481.7,136.2 490.8,137.2 495.4,137.5 C500.0,137.8 503.7,139.2 506.8,138.0 C509.9,136.8 511.6,132.2 514.0,130.0 C516.5,127.8 519.3,126.2 521.5,124.8 C523.7,123.4 523.6,120.8 527.2,121.7 C530.8,122.7 537.5,128.1 543.0,130.5 C548.5,132.9 552.8,134.3 560.0,136.0 C567.2,137.7 576.5,139.6 586.0,140.5 C595.5,141.4 605.5,141.9 616.7,141.5 C627.9,141.1 647.0,138.6 653.0,138.0 L653.0,167.8 L479.0,167.8Z" fill="#ff2e2e"/>
<path d="M479.0,137.7 C481.7,137.9 490.8,138.9 495.4,139.0 C500.0,139.1 503.6,140.2 506.8,138.5 C510.0,136.8 512.1,131.0 514.5,128.6 C516.9,126.2 518.9,125.1 521.0,124.0 C523.1,122.9 522.9,120.6 527.4,122.2 C531.9,123.8 540.7,130.8 548.0,133.8 C555.3,136.8 564.7,138.7 571.0,140.2 C577.3,141.7 578.4,142.1 586.0,143.0 C593.6,143.9 605.5,145.8 616.7,145.5 C627.9,145.2 647.0,141.8 653.0,141.0 L653.0,167.8 L479.0,167.8Z" fill="#ff0000"/>
<path d="M479.0,139.6 C481.7,139.8 490.8,140.8 495.4,140.5 C500.0,140.2 503.6,139.2 506.8,137.5 C510.0,135.8 512.0,131.9 514.5,130.0 C517.0,128.1 519.4,127.0 521.5,126.0 C523.6,125.0 523.3,122.5 527.4,124.2 C531.5,126.0 539.7,133.4 546.0,136.5 C552.3,139.6 558.3,141.3 565.0,143.0 C571.7,144.7 577.4,145.6 586.0,146.5 C594.6,147.4 605.5,148.8 616.7,148.5 C627.9,148.2 647.0,145.2 653.0,144.5 L653.0,167.8 L479.0,167.8Z" fill="#e60000"/>
<path d="M479.0,141.5 C481.7,141.6 490.8,142.8 495.4,142.0 C500.0,141.2 503.6,138.2 506.8,136.4 C510.0,134.6 512.3,132.6 514.5,131.2 C516.7,129.8 517.9,128.9 520.0,128.0 C522.1,127.1 523.2,124.2 527.4,126.0 C531.6,127.8 539.4,135.8 545.4,139.0 C551.4,142.2 556.6,143.7 563.4,145.4 C570.2,147.2 577.1,148.6 586.0,149.5 C594.9,150.4 605.5,151.3 616.7,151.0 C627.9,150.7 647.0,148.1 653.0,147.5 L653.0,167.8 L479.0,167.8Z" fill="#cf0000"/>
<path d="M479.0,142.2 C481.7,142.2 490.8,143.2 495.4,142.5 C500.0,141.8 503.6,139.6 506.8,138.0 C510.0,136.4 512.1,134.2 514.5,133.0 C516.9,131.8 518.6,131.5 521.0,131.0 C523.4,130.5 526.2,129.2 529.0,130.0 C531.8,130.8 535.0,133.8 538.0,136.0 C541.0,138.2 542.8,141.0 547.0,143.0 C551.2,145.0 556.5,146.5 563.0,148.0 C569.5,149.5 577.0,151.1 586.0,152.0 C595.0,152.9 605.5,153.8 616.7,153.5 C627.9,153.2 647.0,150.6 653.0,150.0 L653.0,167.8 L479.0,167.8Z" fill="#b80000"/>
<path d="M479.0,142.8 C481.7,142.8 490.8,143.6 495.4,143.0 C500.0,142.4 503.6,140.3 506.8,139.0 C510.0,137.7 512.0,135.8 514.5,135.0 C517.0,134.2 519.4,134.3 522.0,134.5 C524.6,134.7 528.0,134.7 530.0,136.4 C532.0,138.2 531.5,142.7 534.0,145.0 C536.5,147.3 539.8,149.0 545.0,150.0 C550.2,151.0 558.2,150.3 565.0,151.0 C571.8,151.7 577.4,153.2 586.0,154.0 C594.6,154.8 605.5,155.8 616.7,155.5 C627.9,155.2 647.0,152.6 653.0,152.0 L653.0,167.8 L479.0,167.8Z" fill="#9b0000"/>
<path d="M479.0,146.0 C481.7,146.0 490.8,146.7 495.4,146.0 C500.0,145.3 503.6,143.2 506.8,142.0 C510.0,140.8 512.0,139.5 514.5,139.0 C517.0,138.5 519.6,138.7 522.0,139.0 C524.4,139.3 527.5,139.2 529.0,141.0 C530.5,142.8 527.5,147.5 531.0,150.0 C534.5,152.5 540.2,154.8 550.0,156.0 C559.8,157.2 578.9,156.7 590.0,157.0 C601.1,157.3 606.2,158.3 616.7,158.0 C627.2,157.7 647.0,155.5 653.0,155.0 L653.0,167.8 L479.0,167.8Z" fill="#780000"/>
<path d="M512.0,167.0 C502.4,165.3 511.5,158.8 514.5,157.0 C517.5,155.2 523.1,156.0 530.0,156.0 C536.9,156.0 549.4,156.2 555.7,157.0 C562.0,157.8 565.3,159.3 568.0,161.0 C570.7,162.7 581.3,166.0 572.0,167.0 C562.7,168.0 521.6,168.7 512.0,167.0Z" fill="#e60000"/>
</g></g>
<rect x="481.6" y="5.6" width="169.2" height="158.2" fill="none" stroke="#666" stroke-width="1"/>
<line x1="481.6" y1="163.8" x2="481.6" y2="168.0" stroke="#666" stroke-width="1"/>
<text filter="url(#tb)" x="481.6" y="184.1" font-size="11" text-anchor="middle">08</text>
<line x1="511.0" y1="163.8" x2="511.0" y2="168.0" stroke="#666" stroke-width="1"/>
<text filter="url(#tb)" x="511.0" y="184.1" font-size="11" text-anchor="middle">12</text>
<line x1="540.4" y1="163.8" x2="540.4" y2="168.0" stroke="#666" stroke-width="1"/>
<text filter="url(#tb)" x="540.4" y="184.1" font-size="11" text-anchor="middle">16</text>
<line x1="569.7" y1="163.8" x2="569.7" y2="168.0" stroke="#666" stroke-width="1"/>
<text filter="url(#tb)" x="569.7" y="184.1" font-size="11" text-anchor="middle">20</text>
<line x1="599.1" y1="163.8" x2="599.1" y2="168.0" stroke="#666" stroke-width="1"/>
<text filter="url(#tb)" x="599.1" y="184.1" font-size="11" text-anchor="middle">00</text>
<line x1="628.5" y1="163.8" x2="628.5" y2="168.0" stroke="#666" stroke-width="1"/>
<text filter="url(#tb)" x="628.5" y="184.1" font-size="11" text-anchor="middle">04</text>
<line x1="477.4" y1="134.7" x2="481.6" y2="134.7" stroke="#666" stroke-width="1"/>
<text filter="url(#tb)" x="469.4" y="138.6" font-size="11" text-anchor="end">0.2</text>
<line x1="477.4" y1="102.5" x2="481.6" y2="102.5" stroke="#666" stroke-width="1"/>
<text filter="url(#tb)" x="469.4" y="106.4" font-size="11" text-anchor="end">0.4</text>
<line x1="477.4" y1="70.2" x2="481.6" y2="70.2" stroke="#666" stroke-width="1"/>
<text filter="url(#tb)" x="469.4" y="74.1" font-size="11" text-anchor="end">0.6</text>
<line x1="477.4" y1="37.9" x2="481.6" y2="37.9" stroke="#666" stroke-width="1"/>
<text filter="url(#tb)" x="469.4" y="41.8" font-size="11" text-anchor="end">0.8</text>
<line x1="477.4" y1="5.6" x2="481.6" y2="5.6" stroke="#666" stroke-width="1"/>
<path d="M465.2,4.5 L468.4,2.5 L468.4,9.7" fill="none" stroke="#111" stroke-width="1.7"/>
<text filter="url(#tb)" x="558.2" y="195.4" font-size="13" text-anchor="middle">Time</text>
<text filter="url(#tb)" x="0" y="0" font-size="12" textLength="52.5" lengthAdjust="spacingAndGlyphs" style="font-weight:normal" text-anchor="middle" transform="translate(448.1,85.2) rotate(-90)">Height(km)</text>
<text filter="url(#tb)" x="485.5" y="30.3" font-size="30" style="font-weight:normal;stroke-width:0" transform="translate(0.00,0) scale(1.00,1)">c</text>
<rect x="484.20" y="203.3" width="7.75" height="13.7" fill="#000064"/>
<rect x="491.65" y="203.3" width="7.75" height="13.7" fill="#000082"/>
<rect x="499.11" y="203.3" width="7.75" height="13.7" fill="#0000a0"/>
<rect x="506.56" y="203.3" width="7.75" height="13.7" fill="#0000be"/>
<rect x="514.02" y="203.3" width="7.75" height="13.7" fill="#0000de"/>
<rect x="521.47" y="203.3" width="7.75" height="13.7" fill="#0000ff"/>
<rect x="528.93" y="203.3" width="7.75" height="13.7" fill="#2e2eff"/>
<rect x="536.38" y="203.3" width="7.75" height="13.7" fill="#5d5dff"/>
<rect x="543.84" y="203.3" width="7.75" height="13.7" fill="#8b8bff"/>
<rect x="551.29" y="203.3" width="7.75" height="13.7" fill="#b9b9ff"/>
<rect x="558.75" y="203.3" width="7.75" height="13.7" fill="#e8e8ff"/>
<rect x="566.20" y="203.3" width="7.75" height="13.7" fill="#ffe8e8"/>
<rect x="573.65" y="203.3" width="7.75" height="13.7" fill="#ffb9b9"/>
<rect x="581.11" y="203.3" width="7.75" height="13.7" fill="#ff8b8b"/>
<rect x="588.56" y="203.3" width="7.75" height="13.7" fill="#ff5d5d"/>
<rect x="596.02" y="203.3" width="7.75" height="13.7" fill="#ff2e2e"/>
<rect x="603.47" y="203.3" width="7.75" height="13.7" fill="#ff0000"/>
<rect x="610.93" y="203.3" width="7.75" height="13.7" fill="#e60000"/>
<rect x="618.38" y="203.3" width="7.75" height="13.7" fill="#cf0000"/>
<rect x="625.84" y="203.3" width="7.75" height="13.7" fill="#b80000"/>
<rect x="633.29" y="203.3" width="7.75" height="13.7" fill="#9b0000"/>
<rect x="640.75" y="203.3" width="7.75" height="13.7" fill="#780000"/>
<line x1="491.65" y1="203.3" x2="491.65" y2="217.0" stroke="#000" stroke-opacity="0.25" stroke-width="0.8"/>
<line x1="499.11" y1="203.3" x2="499.11" y2="217.0" stroke="#000" stroke-opacity="0.25" stroke-width="0.8"/>
<line x1="506.56" y1="203.3" x2="506.56" y2="217.0" stroke="#000" stroke-opacity="0.25" stroke-width="0.8"/>
<line x1="514.02" y1="203.3" x2="514.02" y2="217.0" stroke="#000" stroke-opacity="0.25" stroke-width="0.8"/>
<line x1="521.47" y1="203.3" x2="521.47" y2="217.0" stroke="#000" stroke-opacity="0.25" stroke-width="0.8"/>
<line x1="528.93" y1="203.3" x2="528.93" y2="217.0" stroke="#000" stroke-opacity="0.25" stroke-width="0.8"/>
<line x1="536.38" y1="203.3" x2="536.38" y2="217.0" stroke="#000" stroke-opacity="0.25" stroke-width="0.8"/>
<line x1="543.84" y1="203.3" x2="543.84" y2="217.0" stroke="#000" stroke-opacity="0.25" stroke-width="0.8"/>
<line x1="551.29" y1="203.3" x2="551.29" y2="217.0" stroke="#000" stroke-opacity="0.25" stroke-width="0.8"/>
<line x1="558.75" y1="203.3" x2="558.75" y2="217.0" stroke="#000" stroke-opacity="0.25" stroke-width="0.8"/>
<line x1="566.20" y1="203.3" x2="566.20" y2="217.0" stroke="#000" stroke-opacity="0.25" stroke-width="0.8"/>
<line x1="573.65" y1="203.3" x2="573.65" y2="217.0" stroke="#000" stroke-opacity="0.25" stroke-width="0.8"/>
<line x1="581.11" y1="203.3" x2="581.11" y2="217.0" stroke="#000" stroke-opacity="0.25" stroke-width="0.8"/>
<line x1="588.56" y1="203.3" x2="588.56" y2="217.0" stroke="#000" stroke-opacity="0.25" stroke-width="0.8"/>
<line x1="596.02" y1="203.3" x2="596.02" y2="217.0" stroke="#000" stroke-opacity="0.25" stroke-width="0.8"/>
<line x1="603.47" y1="203.3" x2="603.47" y2="217.0" stroke="#000" stroke-opacity="0.25" stroke-width="0.8"/>
<line x1="610.93" y1="203.3" x2="610.93" y2="217.0" stroke="#000" stroke-opacity="0.25" stroke-width="0.8"/>
<line x1="618.38" y1="203.3" x2="618.38" y2="217.0" stroke="#000" stroke-opacity="0.25" stroke-width="0.8"/>
<line x1="625.84" y1="203.3" x2="625.84" y2="217.0" stroke="#000" stroke-opacity="0.25" stroke-width="0.8"/>
<line x1="633.29" y1="203.3" x2="633.29" y2="217.0" stroke="#000" stroke-opacity="0.25" stroke-width="0.8"/>
<line x1="640.75" y1="203.3" x2="640.75" y2="217.0" stroke="#000" stroke-opacity="0.25" stroke-width="0.8"/>
<rect x="484.2" y="203.3" width="164.0" height="13.7" fill="none" stroke="#555" stroke-width="0.8"/>
<text filter="url(#tb)" x="506.6" y="227.6" font-size="9.5" text-anchor="middle">-80</text>
<text filter="url(#tb)" x="536.4" y="227.6" font-size="9.5" text-anchor="middle">-40</text>
<text filter="url(#tb)" x="566.2" y="227.6" font-size="9.5" text-anchor="middle">0</text>
<text filter="url(#tb)" x="596.0" y="227.6" font-size="9.5" text-anchor="middle">40</text>
<text filter="url(#tb)" x="625.8" y="227.6" font-size="9.5" text-anchor="middle">80</text>
<g clip-path="url(#cpd)"><g filter="url(#bl)">
<rect x="149.9" y="260.4" width="175.2" height="164.2" fill="#8b8bff"/>
<path d="M150.0,262.0 C153.9,262.4 167.6,262.3 173.4,264.5 C179.2,266.7 181.1,271.5 184.9,275.2 C188.7,278.9 193.1,284.8 196.4,286.7 C199.7,288.6 202.1,287.5 204.6,286.7 C207.1,285.9 207.6,282.0 211.2,281.7 C214.8,281.4 221.7,283.7 226.0,285.0 C230.3,286.3 231.1,287.9 237.0,289.5 C242.9,291.1 254.8,293.6 261.7,294.9 C268.6,296.2 271.8,295.5 278.1,297.4 C284.4,299.3 294.6,305.4 299.5,306.4 C304.4,307.3 303.6,304.3 307.7,303.1 C311.8,301.9 321.3,299.7 324.0,299.0 L324.0,259.4 L150.0,259.4Z" fill="#b9b9ff"/>
<path d="M215.0,262.0 C215.8,262.3 216.3,261.8 220.0,264.0 C223.7,266.2 231.4,271.8 237.0,275.0 C242.6,278.2 246.8,282.7 253.4,283.4 C260.0,284.1 270.2,279.0 276.5,279.3 C282.8,279.6 287.5,282.9 291.3,285.0 C295.1,287.1 296.8,291.2 299.5,291.6 C302.2,292.0 303.6,287.6 307.7,287.5 C311.8,287.4 321.3,290.2 324.0,290.8 L324.0,259.4 L215.0,259.4Z" fill="#e8e8ff"/>
<path d="M150.0,276.8 C152.5,277.6 160.8,278.9 165.2,281.7 C169.6,284.4 172.6,289.1 176.7,293.3 C180.8,297.6 185.7,306.0 189.8,307.2 C193.9,308.4 197.7,302.9 201.3,300.7 C204.9,298.5 207.6,295.3 211.2,294.1 C214.8,292.9 218.4,292.7 222.7,293.3 C227.0,293.9 230.5,296.2 237.0,298.0 C243.5,299.8 253.5,301.7 261.7,303.9 C269.9,306.1 280.0,309.4 286.3,311.3 C292.6,313.2 293.2,316.6 299.5,315.5 C305.8,314.4 319.9,306.6 324.0,304.8 L324.0,425.6 L150.0,425.6Z" fill="#5d5dff"/>
<path d="M146.0,291.0 C148.0,280.7 154.5,291.4 158.0,292.0 C161.5,292.6 164.4,290.9 167.2,294.6 C170.0,298.3 173.4,308.2 174.6,314.3 C175.8,320.4 176.2,326.2 174.6,331.5 C173.0,336.8 168.3,342.5 164.8,346.2 C161.3,349.9 156.8,352.3 153.7,353.6 C150.6,354.9 147.3,364.4 146.0,354.0 C144.7,343.6 144.0,301.3 146.0,291.0Z" fill="#2e2eff"/>
<path d="M184.0,424.0 L176.0,424.0 L175.5,385.0 L175.5,370.0 L178.0,352.0 L183.0,333.0 L193.1,314.3 L209.0,299.5 L211.2,298.2 L221.1,297.4 L237.0,306.4 L261.7,310.5 L286.3,317.9 L299.5,321.2 L326.0,311.3 L326.0,380.0Z" fill="#2e2eff"/>
<path d="M177.5,380.0 C177.7,374.1 178.3,359.2 179.5,351.1 C180.7,343.0 181.9,337.4 184.4,331.5 C186.9,325.6 190.9,320.2 194.3,316.0 C197.7,311.8 201.8,307.9 204.6,306.0 C207.4,304.1 208.4,305.0 211.2,304.8 C213.9,304.6 216.8,303.4 221.1,304.8 C225.4,306.2 230.2,310.8 237.0,313.0 C243.8,315.2 253.5,316.0 261.7,317.9 C269.9,319.8 275.6,324.8 286.3,324.5 C297.0,324.2 319.4,308.1 326.0,316.3 C332.6,324.6 329.9,364.5 326.0,374.0 C322.1,383.5 310.8,373.7 302.8,373.2 C294.8,372.7 285.0,371.1 278.1,370.8 C271.2,370.5 268.6,371.9 261.7,371.6 C254.8,371.3 244.3,369.7 237.0,369.1 C229.7,368.6 223.2,369.0 217.8,368.3 C212.4,367.6 208.4,365.0 204.6,365.0 C200.8,365.0 197.8,366.7 194.8,368.3 C191.8,369.9 189.2,371.9 186.5,374.9 C183.8,377.9 180.0,385.5 178.5,386.4 C177.0,387.2 177.3,385.9 177.5,380.0Z" fill="#0000ff"/>
<path d="M148.0,309.0 C148.7,305.8 150.4,306.4 152.0,306.9 C153.6,307.4 156.5,309.5 157.4,312.0 C158.3,314.5 158.3,319.6 157.4,322.0 C156.5,324.4 153.6,325.9 152.0,326.6 C150.4,327.3 148.7,328.9 148.0,326.0 C147.3,323.1 147.3,312.2 148.0,309.0Z" fill="#0000ff"/>
<path d="M182.0,372.0 C181.3,368.4 183.3,356.5 184.4,350.0 C185.5,343.5 186.4,338.0 188.5,333.0 C190.6,328.0 193.2,323.8 197.0,320.0 C200.8,316.2 203.7,311.7 211.4,310.5 C219.1,309.3 233.3,310.8 243.2,312.7 C253.0,314.6 262.2,319.3 270.5,321.8 C278.8,324.3 283.9,327.9 293.2,327.5 C302.4,327.1 320.5,313.1 326.0,319.5 C331.5,325.9 336.0,357.9 326.0,366.0 C316.0,374.1 283.6,367.7 266.0,368.3 C248.4,368.9 233.4,368.9 220.5,369.4 C207.6,369.9 195.0,371.1 188.6,371.5 C182.2,371.9 182.7,375.6 182.0,372.0Z" fill="#0000de"/>
<path d="M185.0,368.0 C184.1,365.2 186.3,355.7 187.5,350.0 C188.7,344.3 189.8,338.9 192.0,334.0 C194.2,329.1 197.2,323.2 201.0,320.5 C204.8,317.8 208.0,318.2 215.0,318.0 C222.0,317.8 233.9,317.7 243.2,319.5 C252.4,321.3 262.2,326.3 270.5,328.6 C278.8,330.9 283.9,333.2 293.2,333.2 C302.4,333.2 320.5,324.0 326.0,328.6 C331.5,333.2 336.0,355.2 326.0,361.0 C316.0,366.8 283.6,362.4 266.0,363.2 C248.4,363.9 232.6,364.9 220.5,365.5 C208.4,366.1 199.1,366.6 193.2,367.0 C187.3,367.4 185.9,370.8 185.0,368.0Z" fill="#0000be"/>
<path d="M190.0,362.0 C187.2,359.1 191.3,350.3 192.5,345.0 C193.7,339.7 194.2,333.9 197.0,330.0 C199.8,326.1 203.2,321.6 209.0,321.8 C214.8,322.0 226.1,327.6 231.8,331.0 C237.5,334.4 242.1,337.8 243.2,342.3 C244.3,346.8 244.3,354.8 238.6,358.2 C232.9,361.6 217.1,362.1 209.0,362.7 C200.9,363.3 192.8,364.9 190.0,362.0Z" fill="#0000a0"/>
<path d="M281.8,340.0 C286.4,336.6 304.0,335.2 311.4,335.5 C318.8,335.8 323.6,339.2 326.0,342.0 C328.4,344.8 328.4,348.9 326.0,352.0 C323.6,355.1 318.4,359.8 311.4,360.5 C304.4,361.2 288.9,359.4 284.0,356.0 C279.1,352.6 277.2,343.4 281.8,340.0Z" fill="#0000a0"/>
<path d="M200.0,335.5 C203.8,332.1 215.6,334.0 220.5,335.5 C225.4,337.0 229.5,340.7 229.5,344.5 C229.5,348.3 225.8,356.3 220.5,358.2 C215.2,360.1 201.4,359.8 198.0,356.0 C194.6,352.2 196.2,338.9 200.0,335.5Z" fill="#000082"/>
<path d="M175.0,424.0 C150.2,420.0 174.7,406.3 175.0,400.0 C175.3,393.7 175.2,390.5 177.0,386.0 C178.8,381.5 183.0,376.4 186.0,373.0 C189.0,369.6 191.7,367.2 194.8,365.5 C197.9,363.8 200.8,362.9 204.6,363.0 C208.4,363.1 212.4,365.0 217.8,366.0 C223.2,367.0 229.7,368.2 237.0,369.1 C244.3,370.0 254.8,371.3 261.7,371.6 C268.6,371.9 271.2,370.5 278.1,370.8 C285.0,371.1 295.2,372.9 302.8,373.2 C310.4,373.5 320.5,363.9 324.0,372.4 C327.5,380.9 348.8,415.4 324.0,424.0 C299.2,432.6 199.8,428.0 175.0,424.0Z" fill="#2e2eff"/>
<path d="M176.5,424.0 C151.9,420.0 176.2,406.0 176.5,400.0 C176.8,394.0 176.4,392.0 178.0,388.0 C179.6,384.0 183.2,379.3 186.0,376.0 C188.8,372.7 191.9,369.7 195.0,368.0 C198.1,366.3 200.8,365.8 204.6,366.0 C208.4,366.2 212.4,367.2 217.8,369.0 C223.2,370.8 229.7,375.0 237.0,376.5 C244.3,378.0 253.5,377.6 261.7,378.2 C269.9,378.8 275.9,379.8 286.3,379.8 C296.7,379.8 317.7,370.8 324.0,378.2 C330.3,385.6 348.6,416.4 324.0,424.0 C299.4,431.6 201.1,428.0 176.5,424.0Z" fill="#5d5dff"/>
<path d="M178.0,424.0 C153.7,420.3 177.8,407.8 178.0,402.0 C178.2,396.2 177.7,393.0 179.0,389.0 C180.3,385.0 183.2,381.2 186.0,378.0 C188.8,374.8 192.3,371.7 195.5,370.0 C198.7,368.3 201.4,367.8 205.0,368.0 C208.6,368.2 211.7,369.0 217.0,371.0 C222.3,373.0 229.6,377.9 237.0,379.8 C244.4,381.7 253.5,381.5 261.7,382.3 C269.9,383.1 275.9,384.7 286.3,384.8 C296.7,384.9 317.7,376.6 324.0,383.1 C330.3,389.6 348.3,417.2 324.0,424.0 C299.7,430.8 202.3,427.7 178.0,424.0Z" fill="#8b8bff"/>
<path d="M179.5,424.0 C155.4,420.3 179.3,407.7 179.5,402.0 C179.7,396.3 179.4,393.8 180.5,390.0 C181.6,386.2 183.5,382.1 186.0,379.0 C188.5,375.9 192.3,373.1 195.5,371.5 C198.7,369.9 201.6,369.2 205.0,369.5 C208.4,369.8 210.7,370.6 216.0,373.0 C221.3,375.4 228.0,381.4 237.0,383.9 C246.0,386.4 258.9,387.1 269.9,388.1 C280.9,389.1 293.8,389.7 302.8,389.7 C311.8,389.7 320.5,382.4 324.0,388.1 C327.5,393.8 348.1,418.0 324.0,424.0 C299.9,430.0 203.6,427.7 179.5,424.0Z" fill="#b9b9ff"/>
<path d="M181.0,424.0 C161.2,420.7 180.8,409.4 181.0,404.0 C181.2,398.6 181.1,395.5 182.0,391.4 C182.9,387.3 184.2,382.7 186.5,379.5 C188.8,376.3 192.4,373.7 195.5,372.3 C198.6,370.9 201.6,370.4 205.0,370.9 C208.4,371.3 211.8,373.2 215.9,375.0 C220.0,376.8 224.9,380.0 229.5,381.8 C234.1,383.6 236.5,384.0 243.2,385.9 C249.9,387.8 261.3,391.6 269.9,393.0 C278.5,394.4 289.1,392.7 294.6,394.6 C300.1,396.5 302.0,399.6 302.8,404.5 C303.6,409.4 319.8,420.8 299.5,424.0 C279.2,427.2 200.8,427.3 181.0,424.0Z" fill="#e8e8ff"/>
<path d="M314.3,401.2 C314.3,399.3 320.2,397.2 322.0,396.3 C323.8,395.4 324.5,394.1 325.0,396.0 C325.5,397.9 325.5,406.0 325.0,408.0 C324.5,410.0 323.8,408.9 322.0,407.8 C320.2,406.7 314.3,403.1 314.3,401.2Z" fill="#e8e8ff"/>
<path d="M182.5,421.0 C163.9,418.3 182.2,409.8 182.5,405.0 C182.8,400.2 183.1,396.2 184.0,392.0 C184.9,387.8 186.2,383.2 188.0,380.0 C189.8,376.8 192.4,374.2 195.0,372.5 C197.6,370.8 200.2,369.5 203.5,369.5 C206.8,369.5 210.7,371.2 215.0,372.5 C219.3,373.8 222.6,374.9 229.3,377.5 C236.0,380.1 247.3,384.9 255.0,388.0 C262.7,391.1 270.1,393.2 275.6,396.0 C281.1,398.8 284.9,400.8 288.0,405.0 C291.1,409.2 311.6,418.3 294.0,421.0 C276.4,423.7 201.1,423.7 182.5,421.0Z" fill="#ffe8e8"/>
<path d="M183.5,421.0 C167.3,418.3 183.7,410.0 184.0,405.0 C184.3,400.0 184.5,395.0 185.5,391.0 C186.5,387.0 188.2,383.6 190.0,381.0 C191.8,378.4 193.8,376.8 196.0,375.5 C198.2,374.2 200.3,373.3 203.5,373.5 C206.7,373.7 210.7,375.2 215.0,376.5 C219.3,377.8 222.6,378.9 229.3,381.5 C236.0,384.1 247.3,388.6 255.0,392.0 C262.7,395.4 270.8,398.7 275.6,402.0 C280.4,405.3 283.1,408.8 284.0,412.0 C284.9,415.2 297.8,419.5 281.0,421.0 C264.2,422.5 199.7,423.7 183.5,421.0Z" fill="#ffb9b9"/>
<path d="M185.0,421.0 C169.9,418.8 185.2,412.7 185.5,408.0 C185.8,403.3 185.6,397.5 187.0,393.0 C188.4,388.5 191.2,383.7 194.0,381.0 C196.8,378.3 200.0,377.1 203.5,376.9 C207.0,376.6 210.7,378.2 215.0,379.5 C219.3,380.8 222.6,382.0 229.3,384.6 C236.0,387.2 247.3,391.4 255.0,395.0 C262.7,398.6 271.4,403.3 275.6,406.5 C279.8,409.7 279.9,411.6 280.0,414.0 C280.1,416.4 291.8,419.8 276.0,421.0 C260.2,422.2 200.1,423.2 185.0,421.0Z" fill="#ff8b8b"/>
<path d="M186.5,421.0 C173.0,419.2 186.6,414.3 187.0,410.0 C187.4,405.7 187.7,399.2 189.0,395.0 C190.3,390.8 192.6,386.9 195.0,384.5 C197.4,382.1 200.2,381.0 203.5,380.8 C206.8,380.6 210.7,382.2 215.0,383.5 C219.3,384.8 222.6,385.9 229.3,388.5 C236.0,391.1 247.9,395.2 255.0,398.8 C262.1,402.4 269.8,406.7 272.0,410.4 C274.2,414.1 282.2,419.2 268.0,421.0 C253.8,422.8 200.0,422.8 186.5,421.0Z" fill="#ff5d5d"/>
<path d="M187.5,421.0 C175.5,419.2 187.6,413.8 188.0,410.0 C188.4,406.2 188.7,401.8 190.0,398.0 C191.3,394.2 193.8,389.4 196.0,387.0 C198.2,384.6 200.3,383.4 203.5,383.3 C206.7,383.2 210.7,385.0 215.0,386.5 C219.3,388.0 222.6,389.7 229.3,392.4 C236.0,395.1 249.1,399.1 255.0,402.7 C260.9,406.3 264.2,411.1 265.0,414.2 C265.8,417.2 272.9,419.9 260.0,421.0 C247.1,422.1 199.5,422.8 187.5,421.0Z" fill="#ff2e2e"/>
<path d="M188.6,421.0 C178.4,419.5 188.6,415.5 189.0,412.0 C189.4,408.5 189.7,403.8 191.0,400.0 C192.3,396.2 194.9,391.4 197.0,389.0 C199.1,386.6 200.5,385.9 203.5,385.9 C206.5,385.9 210.7,387.3 215.0,389.0 C219.3,390.7 223.5,393.4 229.3,396.2 C235.1,399.0 245.6,402.9 250.0,406.0 C254.4,409.1 256.0,412.5 256.0,415.0 C256.0,417.5 261.2,420.0 250.0,421.0 C238.8,422.0 198.8,422.5 188.6,421.0Z" fill="#ff0000"/>
<path d="M191.4,420.0 C184.9,417.3 191.7,408.3 193.0,404.0 C194.3,399.7 196.5,395.7 199.0,394.0 C201.5,392.3 204.2,392.8 208.0,393.6 C211.8,394.4 218.0,397.3 222.0,399.0 C226.0,400.7 229.3,401.8 232.0,404.0 C234.7,406.2 238.0,409.3 238.0,412.0 C238.0,414.7 239.8,418.7 232.0,420.0 C224.2,421.3 197.9,422.7 191.4,420.0Z" fill="#e60000"/>
<path d="M200.0,420.0 C196.3,418.3 200.3,412.7 202.0,410.0 C203.7,407.3 207.0,404.7 210.0,404.0 C213.0,403.3 217.3,404.7 220.0,406.0 C222.7,407.3 225.3,409.7 226.0,412.0 C226.7,414.3 228.3,418.7 224.0,420.0 C219.7,421.3 203.7,421.7 200.0,420.0Z" fill="#cf0000"/>
<path d="M205.0,417.0 C204.3,416.0 208.7,412.3 210.5,411.8 C212.3,411.3 215.3,412.9 216.0,413.9 C216.7,414.9 216.3,417.5 214.5,418.0 C212.7,418.5 205.7,418.0 205.0,417.0Z" fill="#b80000"/>
<path d="M176.0,418.6 L324.0,418.6 L324.0,424.0 L176.0,424.0Z" fill="#e8e8ff"/>
<path d="M150.0,356.0 L158.0,352.0 L166.0,346.0 L172.0,338.0 L175.5,326.0 L175.5,424.0 L150.0,424.0Z" fill="#5d5dff"/>
<path d="M150.0,366.7 C152.5,357.0 161.3,364.4 165.2,365.8 C169.1,367.2 171.6,371.7 173.4,374.9 C175.2,378.1 175.6,376.8 176.0,385.0 C176.4,393.2 180.3,417.5 176.0,424.0 C171.7,430.5 154.3,433.6 150.0,424.0 C145.7,414.4 147.5,376.4 150.0,366.7Z" fill="#8b8bff"/>
<path d="M150.0,379.0 C152.0,371.4 158.8,377.8 161.9,378.2 C165.0,378.6 166.7,379.5 168.4,381.5 C170.1,383.5 171.2,382.9 172.0,390.0 C172.8,397.1 176.7,418.3 173.0,424.0 C169.3,429.7 153.8,431.5 150.0,424.0 C146.2,416.5 148.0,386.6 150.0,379.0Z" fill="#b9b9ff"/>
<path d="M150.0,384.0 C152.2,379.4 160.2,384.3 163.5,386.4 C166.8,388.4 169.5,392.7 170.1,396.3 C170.7,399.9 168.5,404.9 166.8,407.8 C165.1,410.8 162.8,413.0 160.0,414.0 C157.2,415.0 151.7,419.0 150.0,414.0 C148.3,409.0 147.8,388.6 150.0,384.0Z" fill="#e8e8ff"/>
<path d="M150.0,389.7 C151.7,386.9 157.7,389.9 160.2,391.3 C162.7,392.7 164.6,395.4 165.2,397.9 C165.8,400.4 165.2,404.2 163.5,406.1 C161.8,408.0 157.6,409.1 155.3,409.4 C153.1,409.7 150.9,411.1 150.0,407.8 C149.1,404.5 148.3,392.4 150.0,389.7Z" fill="#ffe8e8"/>
<path d="M150.0,414.4 L168.4,414.4 L176.7,419.3 L176.0,424.0 L150.0,424.0Z" fill="#2e2eff"/>
<path d="M150.0,418.0 L170.0,418.0 L175.0,424.0 L150.0,424.0Z" fill="#0000ff"/>
</g></g>
<rect x="152.9" y="263.4" width="169.2" height="158.2" fill="none" stroke="#666" stroke-width="1"/>
<line x1="152.9" y1="421.6" x2="152.9" y2="425.8" stroke="#666" stroke-width="1"/>
<text filter="url(#tb)" x="152.9" y="441.9" font-size="11" text-anchor="middle">08</text>
<line x1="182.3" y1="421.6" x2="182.3" y2="425.8" stroke="#666" stroke-width="1"/>
<text filter="url(#tb)" x="182.3" y="441.9" font-size="11" text-anchor="middle">12</text>
<line x1="211.7" y1="421.6" x2="211.7" y2="425.8" stroke="#666" stroke-width="1"/>
<text filter="url(#tb)" x="211.7" y="441.9" font-size="11" text-anchor="middle">16</text>
<line x1="241.0" y1="421.6" x2="241.0" y2="425.8" stroke="#666" stroke-width="1"/>
<text filter="url(#tb)" x="241.0" y="441.9" font-size="11" text-anchor="middle">20</text>
<line x1="270.4" y1="421.6" x2="270.4" y2="425.8" stroke="#666" stroke-width="1"/>
<text filter="url(#tb)" x="270.4" y="441.9" font-size="11" text-anchor="middle">00</text>
<line x1="299.8" y1="421.6" x2="299.8" y2="425.8" stroke="#666" stroke-width="1"/>
<text filter="url(#tb)" x="299.8" y="441.9" font-size="11" text-anchor="middle">04</text>
<line x1="148.7" y1="392.5" x2="152.9" y2="392.5" stroke="#666" stroke-width="1"/>
<text filter="url(#tb)" x="140.7" y="396.4" font-size="11" text-anchor="end">0.2</text>
<line x1="148.7" y1="360.3" x2="152.9" y2="360.3" stroke="#666" stroke-width="1"/>
<text filter="url(#tb)" x="140.7" y="364.2" font-size="11" text-anchor="end">0.4</text>
<line x1="148.7" y1="328.0" x2="152.9" y2="328.0" stroke="#666" stroke-width="1"/>
<text filter="url(#tb)" x="140.7" y="331.9" font-size="11" text-anchor="end">0.6</text>
<line x1="148.7" y1="295.7" x2="152.9" y2="295.7" stroke="#666" stroke-width="1"/>
<text filter="url(#tb)" x="140.7" y="299.6" font-size="11" text-anchor="end">0.8</text>
<line x1="148.7" y1="263.4" x2="152.9" y2="263.4" stroke="#666" stroke-width="1"/>
<path d="M136.5,262.3 L139.7,260.3 L139.7,267.5" fill="none" stroke="#111" stroke-width="1.7"/>
<text filter="url(#tb)" x="229.5" y="455.9" font-size="13" text-anchor="middle">Time</text>
<text filter="url(#tb)" x="0" y="0" font-size="12" textLength="52.5" lengthAdjust="spacingAndGlyphs" style="font-weight:normal" text-anchor="middle" transform="translate(115.6,343.0) rotate(-90)">Height(km)</text>
<text filter="url(#tb)" x="157.1" y="290.0" font-size="30" style="font-weight:normal;stroke-width:0" transform="translate(-23.56,0) scale(1.15,1)">d</text>
<rect x="155.60" y="460.0" width="7.74" height="13.3" fill="#000064"/>
<rect x="163.04" y="460.0" width="7.74" height="13.3" fill="#000082"/>
<rect x="170.48" y="460.0" width="7.74" height="13.3" fill="#0000a0"/>
<rect x="177.92" y="460.0" width="7.74" height="13.3" fill="#0000be"/>
<rect x="185.36" y="460.0" width="7.74" height="13.3" fill="#0000de"/>
<rect x="192.80" y="460.0" width="7.74" height="13.3" fill="#0000ff"/>
<rect x="200.25" y="460.0" width="7.74" height="13.3" fill="#2e2eff"/>
<rect x="207.69" y="460.0" width="7.74" height="13.3" fill="#5d5dff"/>
<rect x="215.13" y="460.0" width="7.74" height="13.3" fill="#8b8bff"/>
<rect x="222.57" y="460.0" width="7.74" height="13.3" fill="#b9b9ff"/>
<rect x="230.01" y="460.0" width="7.74" height="13.3" fill="#e8e8ff"/>
<rect x="237.45" y="460.0" width="7.74" height="13.3" fill="#ffe8e8"/>
<rect x="244.89" y="460.0" width="7.74" height="13.3" fill="#ffb9b9"/>
<rect x="252.33" y="460.0" width="7.74" height="13.3" fill="#ff8b8b"/>
<rect x="259.77" y="460.0" width="7.74" height="13.3" fill="#ff5d5d"/>
<rect x="267.21" y="460.0" width="7.74" height="13.3" fill="#ff2e2e"/>
<rect x="274.65" y="460.0" width="7.74" height="13.3" fill="#ff0000"/>
<rect x="282.10" y="460.0" width="7.74" height="13.3" fill="#e60000"/>
<rect x="289.54" y="460.0" width="7.74" height="13.3" fill="#cf0000"/>
<rect x="296.98" y="460.0" width="7.74" height="13.3" fill="#b80000"/>
<rect x="304.42" y="460.0" width="7.74" height="13.3" fill="#9b0000"/>
<rect x="311.86" y="460.0" width="7.74" height="13.3" fill="#780000"/>
<line x1="163.04" y1="460.0" x2="163.04" y2="473.3" stroke="#000" stroke-opacity="0.25" stroke-width="0.8"/>
<line x1="170.48" y1="460.0" x2="170.48" y2="473.3" stroke="#000" stroke-opacity="0.25" stroke-width="0.8"/>
<line x1="177.92" y1="460.0" x2="177.92" y2="473.3" stroke="#000" stroke-opacity="0.25" stroke-width="0.8"/>
<line x1="185.36" y1="460.0" x2="185.36" y2="473.3" stroke="#000" stroke-opacity="0.25" stroke-width="0.8"/>
<line x1="192.80" y1="460.0" x2="192.80" y2="473.3" stroke="#000" stroke-opacity="0.25" stroke-width="0.8"/>
<line x1="200.25" y1="460.0" x2="200.25" y2="473.3" stroke="#000" stroke-opacity="0.25" stroke-width="0.8"/>
<line x1="207.69" y1="460.0" x2="207.69" y2="473.3" stroke="#000" stroke-opacity="0.25" stroke-width="0.8"/>
<line x1="215.13" y1="460.0" x2="215.13" y2="473.3" stroke="#000" stroke-opacity="0.25" stroke-width="0.8"/>
<line x1="222.57" y1="460.0" x2="222.57" y2="473.3" stroke="#000" stroke-opacity="0.25" stroke-width="0.8"/>
<line x1="230.01" y1="460.0" x2="230.01" y2="473.3" stroke="#000" stroke-opacity="0.25" stroke-width="0.8"/>
<line x1="237.45" y1="460.0" x2="237.45" y2="473.3" stroke="#000" stroke-opacity="0.25" stroke-width="0.8"/>
<line x1="244.89" y1="460.0" x2="244.89" y2="473.3" stroke="#000" stroke-opacity="0.25" stroke-width="0.8"/>
<line x1="252.33" y1="460.0" x2="252.33" y2="473.3" stroke="#000" stroke-opacity="0.25" stroke-width="0.8"/>
<line x1="259.77" y1="460.0" x2="259.77" y2="473.3" stroke="#000" stroke-opacity="0.25" stroke-width="0.8"/>
<line x1="267.21" y1="460.0" x2="267.21" y2="473.3" stroke="#000" stroke-opacity="0.25" stroke-width="0.8"/>
<line x1="274.65" y1="460.0" x2="274.65" y2="473.3" stroke="#000" stroke-opacity="0.25" stroke-width="0.8"/>
<line x1="282.10" y1="460.0" x2="282.10" y2="473.3" stroke="#000" stroke-opacity="0.25" stroke-width="0.8"/>
<line x1="289.54" y1="460.0" x2="289.54" y2="473.3" stroke="#000" stroke-opacity="0.25" stroke-width="0.8"/>
<line x1="296.98" y1="460.0" x2="296.98" y2="473.3" stroke="#000" stroke-opacity="0.25" stroke-width="0.8"/>
<line x1="304.42" y1="460.0" x2="304.42" y2="473.3" stroke="#000" stroke-opacity="0.25" stroke-width="0.8"/>
<line x1="311.86" y1="460.0" x2="311.86" y2="473.3" stroke="#000" stroke-opacity="0.25" stroke-width="0.8"/>
<rect x="155.6" y="460.0" width="163.7" height="13.3" fill="none" stroke="#555" stroke-width="0.8"/>
<text filter="url(#tb)" x="177.9" y="483.9" font-size="9.5" text-anchor="middle">-0.16</text>
<text filter="url(#tb)" x="207.7" y="483.9" font-size="9.5" text-anchor="middle">-0.08</text>
<text filter="url(#tb)" x="237.4" y="483.9" font-size="9.5" text-anchor="middle">0</text>
<text filter="url(#tb)" x="267.2" y="483.9" font-size="9.5" text-anchor="middle">0.08</text>
<text filter="url(#tb)" x="297.0" y="483.9" font-size="9.5" text-anchor="middle">0.16</text>
<g clip-path="url(#cpe)"><g filter="url(#bl)">
<rect x="375.4" y="258.9" width="175.2" height="164.2" fill="#7878ff"/>
<path d="M376.0,273.0 C377.7,272.1 383.1,269.2 386.2,267.6 C389.3,266.0 392.4,265.1 394.4,263.5 C396.4,261.9 397.4,258.9 398.0,258.0 L398.0,257.9 L376.0,257.9Z" fill="#a0a0ff"/>
<path d="M440.0,258.0 C441.0,258.5 443.7,258.8 445.9,261.0 C448.1,263.2 450.6,267.5 453.0,271.1 C455.4,274.7 457.8,278.9 460.2,282.5 C462.6,286.1 464.5,290.0 467.4,292.6 C470.3,295.2 473.9,296.6 477.5,298.3 C481.1,300.0 485.1,301.6 488.9,302.7 C492.6,303.8 496.1,304.3 500.0,305.0 C503.9,305.7 508.0,306.2 512.3,307.1 C516.5,308.0 521.4,310.6 525.5,310.3 C529.6,310.0 532.9,307.0 537.0,305.4 C541.1,303.8 547.8,301.3 550.0,300.5 L550.0,257.9 L440.0,257.9Z" fill="#a0a0ff"/>
<path d="M458.0,258.0 C458.6,258.5 460.1,258.8 461.7,261.0 C463.3,263.2 465.2,267.5 467.4,271.1 C469.5,274.7 472.0,280.0 474.6,282.5 C477.2,285.0 480.3,285.6 483.2,286.1 C486.1,286.6 488.3,285.1 491.8,285.4 C495.3,285.7 500.7,287.0 504.1,288.1 C507.5,289.2 508.7,290.4 512.3,292.3 C515.9,294.2 522.2,299.2 525.5,299.7 C528.8,300.2 528.0,296.9 532.1,295.5 C536.2,294.1 547.0,292.1 550.0,291.4 L550.0,257.9 L458.0,257.9Z" fill="#c8c8ff"/>
<path d="M476.0,258.0 C476.6,258.9 474.7,262.4 479.4,263.5 C484.1,264.6 497.8,263.4 504.1,264.3 C510.4,265.2 512.6,268.5 517.3,269.2 C522.0,269.9 526.6,267.6 532.1,268.4 C537.6,269.2 547.0,273.2 550.0,274.2 L550.0,257.9 L476.0,257.9Z" fill="#ebebff"/>
<path d="M376.0,290.6 C379.1,290.5 389.1,289.4 394.4,289.8 C399.7,290.2 402.7,293.0 407.6,293.1 C412.6,293.2 420.3,292.4 424.1,290.6 C427.9,288.8 428.4,284.8 430.6,282.4 C432.8,280.0 434.6,276.3 437.2,276.1 C439.8,275.9 443.3,278.6 445.9,281.1 C448.5,283.6 450.1,287.9 453.0,291.2 C455.9,294.5 459.0,298.6 463.1,301.2 C467.2,303.8 473.4,305.6 477.5,307.0 C481.6,308.4 484.4,309.2 487.5,309.8 C490.6,310.4 491.8,309.1 495.9,310.3 C500.0,311.5 506.8,315.4 512.3,316.9 C517.8,318.4 522.5,321.0 528.8,319.4 C535.1,317.8 546.5,309.2 550.0,307.1 L550.0,424.1 L376.0,424.1Z" fill="#5050ff"/>
<path d="M397.0,424.0 C397.2,416.7 398.1,389.9 398.0,380.0 C397.9,370.1 396.4,369.9 396.1,364.5 C395.8,359.1 395.4,352.1 396.1,347.3 C396.8,342.5 398.7,339.5 400.5,335.8 C402.3,332.1 404.4,328.4 407.0,325.0 C409.6,321.6 412.9,319.1 415.8,315.3 C418.7,311.5 422.2,304.9 424.1,302.1 C426.0,299.3 425.0,300.0 427.2,298.3 C429.4,296.6 433.6,291.9 437.2,291.9 C440.8,291.9 445.3,295.8 448.7,298.3 C452.1,300.8 454.2,304.8 457.3,307.0 C460.4,309.2 462.8,309.9 467.4,311.3 C471.9,312.7 479.2,313.9 484.6,315.6 C490.0,317.3 496.8,319.4 500.0,321.3 C503.2,323.2 500.7,325.6 504.1,326.8 C507.5,328.0 515.1,329.5 520.6,328.4 C526.1,327.3 532.1,322.4 537.0,320.2 C541.9,318.0 547.8,316.1 550.0,315.3 L550.0,424.1 L397.0,424.1Z" fill="#2828ff"/>
<path d="M401.0,424.0 C401.1,414.3 401.8,378.6 401.9,366.0 C402.0,353.4 401.4,353.3 401.9,348.7 C402.4,344.1 403.5,342.1 404.8,338.6 C406.1,335.2 407.6,330.8 409.7,328.0 C411.8,325.2 414.8,325.4 417.5,321.9 C420.2,318.4 422.4,310.8 425.7,307.1 C429.0,303.4 433.6,300.0 437.2,299.7 C440.8,299.4 443.5,302.8 447.1,305.4 C450.7,308.0 454.7,313.2 458.8,315.6 C462.9,318.0 467.4,318.5 471.7,319.9 C476.0,321.3 480.0,321.7 484.6,324.2 C489.2,326.7 494.6,332.6 499.2,335.0 C503.8,337.4 507.4,338.6 512.3,338.3 C517.2,338.0 522.5,335.9 528.8,333.4 C535.1,330.9 546.5,325.1 550.0,323.5 L550.0,424.1 L401.0,424.1Z" fill="#0000ff"/>
<path d="M409.4,368.0 C407.9,367.0 408.3,367.8 409.4,361.8 C410.5,355.9 412.8,341.0 416.2,332.3 C419.6,323.6 426.0,314.1 429.8,309.5 C433.6,304.9 435.1,303.5 438.9,305.0 C442.7,306.5 446.8,315.2 452.5,318.6 C458.2,322.0 467.3,323.2 473.0,325.5 C478.7,327.8 484.1,329.7 486.6,332.3 C489.1,334.9 489.3,338.0 487.8,341.4 C486.3,344.8 484.9,350.8 477.5,352.7 C470.1,354.6 451.8,352.3 443.5,352.7 C435.2,353.1 431.7,352.4 427.5,355.0 C423.3,357.6 421.5,365.8 418.5,368.0 C415.5,370.2 410.9,369.0 409.4,368.0Z" fill="#0000e6"/>
<path d="M418.5,352.7 C418.1,348.1 420.4,335.7 423.0,330.0 C425.6,324.3 429.8,319.4 434.4,318.6 C438.9,317.9 443.9,323.2 450.3,325.5 C456.7,327.8 467.7,329.7 473.0,332.3 C478.3,334.9 482.4,338.4 482.0,341.4 C481.6,344.4 477.9,349.0 470.7,350.5 C463.5,352.0 446.5,349.4 438.9,350.5 C431.3,351.6 428.7,356.9 425.3,357.3 C421.9,357.7 418.9,357.2 418.5,352.7Z" fill="#0000cc"/>
<path d="M427.5,334.5 C429.8,331.1 433.9,327.3 436.6,327.7 C439.3,328.1 444.3,333.8 443.5,336.8 C442.7,339.8 435.4,344.0 432.0,345.9 C428.6,347.8 423.8,349.9 423.0,348.0 C422.2,346.1 425.2,337.9 427.5,334.5Z" fill="#000098"/>
<path d="M409.0,372.0 C408.3,370.7 410.5,366.5 412.0,362.0 C413.5,357.5 416.0,348.7 418.0,345.0 C420.0,341.3 423.3,337.8 424.0,340.0 C424.7,342.2 423.3,353.0 422.0,358.0 C420.7,363.0 418.2,367.7 416.0,370.0 C413.8,372.3 409.7,373.3 409.0,372.0Z" fill="#0000b2"/>
<path d="M511.6,343.6 C512.7,340.9 516.2,336.8 520.7,334.5 C525.2,332.2 533.9,331.1 538.9,330.0 C543.9,328.9 549.0,323.5 551.0,327.7 C553.0,331.9 555.3,350.4 551.0,355.0 C546.7,359.6 531.5,355.8 525.3,355.0 C519.1,354.2 516.2,352.4 513.9,350.5 C511.6,348.6 510.5,346.3 511.6,343.6Z" fill="#0000e6"/>
<path d="M398.0,394.0 C398.6,391.7 400.8,382.7 401.9,380.0 C403.0,377.3 403.6,378.0 404.8,378.0 C406.0,378.0 407.2,381.0 409.1,380.0 C411.0,379.0 412.8,375.0 416.0,372.0 C419.2,369.0 423.8,364.6 428.6,362.0 C433.4,359.4 439.0,357.0 444.7,356.2 C450.4,355.4 455.8,357.7 463.0,357.4 C470.2,357.1 480.8,355.3 487.7,354.2 C494.6,353.1 498.6,350.4 504.1,350.9 C509.6,351.4 513.0,356.0 520.6,357.4 C528.2,358.8 545.1,358.8 550.0,359.1 L550.0,424.1 L398.0,424.1Z" fill="#2828ff"/>
<path d="M398.0,394.0 C398.8,392.5 401.1,387.0 403.0,385.0 C404.9,383.0 407.2,383.9 409.5,382.0 C411.8,380.1 413.8,376.7 417.0,373.5 C420.2,370.3 424.0,365.5 428.6,363.0 C433.2,360.5 439.0,358.8 444.7,358.7 C450.4,358.6 454.5,362.3 463.0,362.4 C471.5,362.5 487.7,359.1 495.9,359.1 C504.1,359.1 503.3,361.3 512.3,362.4 C521.3,363.5 543.7,365.1 550.0,365.7 L550.0,424.1 L398.0,424.1Z" fill="#5050ff"/>
<path d="M376.0,349.0 C377.7,347.8 383.5,341.1 386.1,341.5 C388.7,341.9 390.4,347.5 391.8,351.6 C393.2,355.7 393.5,361.4 394.7,366.0 C395.9,370.6 397.9,375.3 399.0,378.9 C400.1,382.5 400.7,385.8 401.2,387.6 C401.7,389.5 400.5,390.8 402.0,390.0 C403.5,389.2 407.3,385.6 410.0,383.0 C412.7,380.4 414.9,377.7 418.0,374.5 C421.1,371.3 424.2,366.1 428.6,364.0 C433.1,361.9 439.0,361.5 444.7,361.8 C450.4,362.1 454.5,365.3 463.0,365.7 C471.5,366.1 486.3,363.7 495.9,364.0 C505.5,364.3 511.6,366.1 520.6,367.3 C529.6,368.5 545.1,370.7 550.0,371.4 L550.0,424.1 L376.0,424.1Z" fill="#7878ff"/>
<path d="M376.0,358.8 C377.2,359.0 381.0,358.8 383.2,360.2 C385.4,361.6 387.1,364.3 389.0,367.4 C390.9,370.5 392.8,375.3 394.7,378.9 C396.6,382.5 399.3,387.0 400.5,389.0 C401.7,391.0 400.3,391.8 402.0,391.0 C403.7,390.2 407.7,386.6 410.5,384.0 C413.3,381.4 416.0,378.7 419.0,375.5 C422.0,372.3 424.3,366.7 428.6,364.9 C432.9,363.1 439.0,364.1 444.7,364.9 C450.4,365.7 454.5,369.3 463.0,369.8 C471.5,370.3 484.9,367.6 495.9,368.1 C506.9,368.7 519.8,371.9 528.8,373.1 C537.8,374.3 546.5,375.1 550.0,375.5 L550.0,424.1 L376.0,424.1Z" fill="#a0a0ff"/>
<path d="M376.0,366.7 C377.4,367.1 382.0,367.0 384.6,368.8 C387.2,370.6 389.4,374.1 391.8,377.5 C394.2,380.9 397.3,386.6 399.0,389.0 C400.7,391.4 400.0,392.7 402.0,392.0 C404.0,391.3 408.0,387.6 411.0,385.0 C414.0,382.4 417.1,379.7 420.0,376.5 C422.9,373.3 424.5,367.2 428.6,365.8 C432.7,364.4 439.0,366.8 444.7,368.0 C450.4,369.2 454.5,372.2 463.0,373.1 C471.5,374.0 484.9,372.4 495.9,373.1 C506.9,373.8 519.8,376.1 528.8,377.2 C537.8,378.3 546.5,379.3 550.0,379.7 L550.0,424.1 L376.0,424.1Z" fill="#c8c8ff"/>
<path d="M376.0,372.4 C377.4,372.8 382.0,373.0 384.6,374.6 C387.2,376.2 389.2,379.0 391.8,381.8 C394.4,384.6 398.7,389.3 400.5,391.2 C402.3,393.1 400.7,393.9 402.5,393.0 C404.3,392.1 408.5,388.7 411.5,386.0 C414.5,383.3 417.6,380.2 420.5,377.0 C423.4,373.8 424.6,367.7 428.6,366.7 C432.6,365.7 439.0,369.5 444.7,371.0 C450.4,372.5 454.5,374.6 463.0,375.5 C471.5,376.4 484.9,375.4 495.9,376.4 C506.9,377.4 519.8,379.8 528.8,381.3 C537.8,382.8 546.5,384.7 550.0,385.4 L550.0,424.1 L376.0,424.1Z" fill="#ebebff"/>
<path d="M376.0,378.9 C377.7,379.4 383.2,380.4 386.1,381.8 C389.0,383.2 390.8,385.9 393.3,387.6 C395.8,389.3 399.6,390.7 401.2,391.8 C402.8,392.9 401.2,394.8 403.0,394.0 C404.8,393.2 409.0,389.7 412.0,387.0 C415.0,384.3 418.2,381.1 421.0,378.0 C423.8,374.9 424.7,369.2 428.6,368.6 C432.6,368.1 439.0,372.7 444.7,374.7 C450.4,376.7 454.5,379.3 463.0,380.5 C471.5,381.7 484.9,380.7 495.9,382.1 C506.9,383.5 519.8,386.8 528.8,388.7 C537.8,390.6 546.5,392.8 550.0,393.6 L550.0,424.1 L376.0,424.1Z" fill="#fff0eb"/>
<path d="M376.0,381.0 C377.8,381.5 383.8,382.5 387.0,384.0 C390.2,385.5 392.5,388.2 395.0,390.0 C397.5,391.8 400.5,394.2 402.0,395.0 C403.5,395.8 402.2,396.2 404.0,395.0 C405.8,393.8 409.7,390.6 412.5,387.8 C415.3,385.1 418.3,381.3 421.0,378.5 C423.7,375.7 424.7,371.0 428.6,371.0 C432.6,371.0 439.0,376.4 444.7,378.4 C450.4,380.4 454.5,381.8 463.0,383.0 C471.5,384.2 484.9,383.6 495.9,385.4 C506.9,387.2 519.8,391.4 528.8,393.6 C537.8,395.8 546.5,397.8 550.0,398.6 L550.0,424.1 L376.0,424.1Z" fill="#ffc8c8"/>
<path d="M376.0,383.5 C378.0,383.9 384.7,384.6 388.0,386.0 C391.3,387.4 393.5,390.3 396.0,392.0 C398.5,393.7 401.5,395.4 403.0,396.0 C404.5,396.6 403.3,396.9 405.0,395.7 C406.7,394.4 410.3,391.3 413.0,388.5 C415.7,385.7 418.4,381.5 421.0,379.0 C423.6,376.5 424.7,373.0 428.6,373.5 C432.6,374.0 439.0,379.8 444.7,382.1 C450.4,384.4 454.5,385.9 463.0,387.1 C471.5,388.3 484.9,387.6 495.9,389.5 C506.9,391.4 521.1,395.7 528.8,398.6 C536.5,401.5 538.4,405.7 541.9,406.8 C545.4,407.9 548.6,405.3 550.0,405.0 L550.0,424.1 L376.0,424.1Z" fill="#ffa5a5"/>
<path d="M376.0,385.5 C378.0,385.9 384.5,386.6 388.0,388.0 C391.5,389.4 394.3,392.5 397.0,394.0 C399.7,395.5 402.5,396.6 404.0,397.0 C405.5,397.4 404.4,397.5 406.0,396.2 C407.6,394.9 411.0,391.8 413.5,389.0 C416.0,386.2 418.5,381.7 421.0,379.5 C423.5,377.3 424.7,374.9 428.6,376.0 C432.6,377.1 439.0,383.4 444.7,385.8 C450.4,388.2 454.5,389.0 463.0,390.3 C471.5,391.6 486.3,391.7 495.9,393.6 C505.5,395.5 514.3,398.9 520.6,401.9 C526.9,404.9 531.0,408.0 533.7,411.7 C536.4,415.4 536.5,421.9 537.0,424.0 L537.0,424.1 L376.0,424.1Z" fill="#ff8282"/>
<path d="M376.0,387.5 C378.0,387.9 384.4,388.7 388.0,390.0 C391.6,391.3 394.8,394.2 397.5,395.5 C400.2,396.8 403.0,397.3 404.5,397.5 C406.0,397.7 404.9,397.9 406.5,396.6 C408.1,395.3 411.6,392.3 414.0,389.5 C416.4,386.7 418.6,381.8 421.0,380.0 C423.4,378.2 424.7,376.9 428.6,378.5 C432.6,380.1 439.0,387.0 444.7,389.5 C450.4,392.0 454.5,392.4 463.0,393.6 C471.5,394.8 487.7,395.2 495.9,396.9 C504.1,398.5 506.8,400.8 512.3,403.5 C517.8,406.2 525.8,410.0 528.8,413.4 C531.8,416.8 530.1,422.2 530.4,424.0 L530.4,424.1 L376.0,424.1Z" fill="#ff5a5a"/>
<path d="M376.0,389.0 C377.9,389.3 383.9,389.7 387.5,391.0 C391.1,392.3 394.7,395.8 397.6,397.0 C400.5,398.2 403.4,398.0 405.0,398.0 C406.6,398.0 405.5,398.3 407.0,397.0 C408.5,395.7 411.7,392.8 414.0,390.0 C416.3,387.2 418.6,381.8 421.0,380.3 C423.4,378.8 424.7,378.9 428.6,381.0 C432.6,383.1 439.0,390.6 444.7,393.2 C450.4,395.8 455.8,395.7 463.0,396.9 C470.2,398.1 480.8,398.8 487.7,400.2 C494.6,401.6 499.2,403.2 504.1,405.1 C509.0,407.0 514.5,408.6 517.3,411.7 C520.0,414.8 520.0,421.9 520.6,424.0 L520.6,424.1 L376.0,424.1Z" fill="#ff3232"/>
<path d="M376.0,390.4 C377.9,390.6 383.9,390.7 387.5,391.9 C391.1,393.1 394.9,396.7 397.6,397.6 C400.3,398.5 401.1,399.4 403.8,397.5 C406.5,395.6 411.1,389.3 414.0,386.5 C416.9,383.7 418.6,381.1 421.0,380.5 C423.4,379.9 424.7,380.3 428.6,383.0 C432.6,385.7 439.0,393.6 444.7,396.5 C450.4,399.4 455.8,399.0 463.0,400.2 C470.2,401.4 480.8,402.1 487.7,403.5 C494.6,404.9 500.0,406.8 504.1,408.4 C508.2,410.0 510.6,410.8 512.3,413.4 C513.9,416.0 513.7,422.2 514.0,424.0 L514.0,424.1 L376.0,424.1Z" fill="#ff0000"/>
<path d="M376.0,401.0 C378.9,402.0 386.7,407.0 393.5,407.0 C400.3,407.0 408.9,401.4 416.6,401.0 C424.4,400.6 432.3,403.8 440.0,404.5 C447.7,405.2 456.4,405.0 463.0,405.1 C469.6,405.2 473.9,404.3 479.4,405.1 C484.9,405.9 491.5,408.5 495.9,410.1 C500.3,411.8 504.4,412.7 505.8,415.0 C507.2,417.3 504.4,422.5 504.1,424.0 L504.1,424.1 L376.0,424.1Z" fill="#eb0000"/>
<path d="M376.0,412.5 C379.8,411.9 391.3,409.4 398.6,409.0 C405.9,408.6 412.3,409.7 420.0,410.0 C427.7,410.3 437.8,411.0 445.0,411.0 C452.2,411.0 457.3,410.2 463.0,410.1 C468.7,410.0 474.5,409.6 479.4,410.1 C484.3,410.7 489.9,411.1 492.6,413.4 C495.4,415.7 495.3,422.2 495.9,424.0 L495.9,424.1 L376.0,424.1Z" fill="#d70000"/>
<path d="M389.0,412.0 C389.7,410.8 393.2,408.7 395.0,408.5 C396.8,408.3 399.5,409.8 400.0,411.0 C400.5,412.2 399.5,415.2 398.0,416.0 C396.5,416.8 392.5,416.7 391.0,416.0 C389.5,415.3 388.3,413.2 389.0,412.0Z" fill="#ac0000"/>
<path d="M392.0,412.0 C392.2,411.3 394.2,410.3 395.0,410.5 C395.8,410.7 397.2,412.3 397.0,413.0 C396.8,413.7 394.8,414.7 394.0,414.5 C393.2,414.3 391.8,412.7 392.0,412.0Z" fill="#780000"/>
<path d="M405.0,418.5 L470.0,418.0 L548.0,417.5 L550.0,424.0 L405.0,424.0Z" fill="#ff5a5a"/>
<path d="M398.0,419.0 C401.7,417.9 411.3,417.8 420.0,417.5 C428.7,417.2 441.7,417.2 450.0,417.5 C458.3,417.8 466.7,417.9 470.0,419.0 C473.3,420.1 482.0,423.2 470.0,424.0 C458.0,424.8 410.0,424.8 398.0,424.0 C386.0,423.2 394.3,420.1 398.0,419.0Z" fill="#ffc8c8"/>
</g></g>
<rect x="378.4" y="261.9" width="169.2" height="158.2" fill="none" stroke="#666" stroke-width="1"/>
<line x1="378.4" y1="420.1" x2="378.4" y2="424.3" stroke="#666" stroke-width="1"/>
<text filter="url(#tb)" x="378.4" y="440.4" font-size="11" text-anchor="middle">08</text>
<line x1="407.8" y1="420.1" x2="407.8" y2="424.3" stroke="#666" stroke-width="1"/>
<text filter="url(#tb)" x="407.8" y="440.4" font-size="11" text-anchor="middle">12</text>
<line x1="437.2" y1="420.1" x2="437.2" y2="424.3" stroke="#666" stroke-width="1"/>
<text filter="url(#tb)" x="437.2" y="440.4" font-size="11" text-anchor="middle">16</text>
<line x1="466.5" y1="420.1" x2="466.5" y2="424.3" stroke="#666" stroke-width="1"/>
<text filter="url(#tb)" x="466.5" y="440.4" font-size="11" text-anchor="middle">20</text>
<line x1="495.9" y1="420.1" x2="495.9" y2="424.3" stroke="#666" stroke-width="1"/>
<text filter="url(#tb)" x="495.9" y="440.4" font-size="11" text-anchor="middle">00</text>
<line x1="525.3" y1="420.1" x2="525.3" y2="424.3" stroke="#666" stroke-width="1"/>
<text filter="url(#tb)" x="525.3" y="440.4" font-size="11" text-anchor="middle">04</text>
<line x1="374.2" y1="391.0" x2="378.4" y2="391.0" stroke="#666" stroke-width="1"/>
<text filter="url(#tb)" x="366.2" y="394.9" font-size="11" text-anchor="end">0.2</text>
<line x1="374.2" y1="358.8" x2="378.4" y2="358.8" stroke="#666" stroke-width="1"/>
<text filter="url(#tb)" x="366.2" y="362.7" font-size="11" text-anchor="end">0.4</text>
<line x1="374.2" y1="326.5" x2="378.4" y2="326.5" stroke="#666" stroke-width="1"/>
<text filter="url(#tb)" x="366.2" y="330.4" font-size="11" text-anchor="end">0.6</text>
<line x1="374.2" y1="294.2" x2="378.4" y2="294.2" stroke="#666" stroke-width="1"/>
<text filter="url(#tb)" x="366.2" y="298.1" font-size="11" text-anchor="end">0.8</text>
<line x1="374.2" y1="261.9" x2="378.4" y2="261.9" stroke="#666" stroke-width="1"/>
<path d="M362.0,260.8 L365.2,258.8 L365.2,266.0" fill="none" stroke="#111" stroke-width="1.7"/>
<text filter="url(#tb)" x="455.0" y="453.3" font-size="13" text-anchor="middle">Time</text>
<text filter="url(#tb)" x="0" y="0" font-size="12" textLength="52.5" lengthAdjust="spacingAndGlyphs" style="font-weight:normal" text-anchor="middle" transform="translate(340.9,341.5) rotate(-90)">Height(km)</text>
<text filter="url(#tb)" x="385.0" y="284.8" font-size="30" style="font-weight:normal;stroke-width:0" transform="translate(0.00,0) scale(1.00,1)">e</text>
<rect x="381.20" y="460.0" width="6.61" height="13.3" fill="#000064"/>
<rect x="387.51" y="460.0" width="6.61" height="13.3" fill="#00007e"/>
<rect x="393.82" y="460.0" width="6.61" height="13.3" fill="#000098"/>
<rect x="400.12" y="460.0" width="6.61" height="13.3" fill="#0000b2"/>
<rect x="406.43" y="460.0" width="6.61" height="13.3" fill="#0000cc"/>
<rect x="412.74" y="460.0" width="6.61" height="13.3" fill="#0000e6"/>
<rect x="419.05" y="460.0" width="6.61" height="13.3" fill="#0000ff"/>
<rect x="425.35" y="460.0" width="6.61" height="13.3" fill="#2828ff"/>
<rect x="431.66" y="460.0" width="6.61" height="13.3" fill="#5050ff"/>
<rect x="437.97" y="460.0" width="6.61" height="13.3" fill="#7878ff"/>
<rect x="444.28" y="460.0" width="6.61" height="13.3" fill="#a0a0ff"/>
<rect x="450.58" y="460.0" width="6.61" height="13.3" fill="#c8c8ff"/>
<rect x="456.89" y="460.0" width="6.61" height="13.3" fill="#ebebff"/>
<rect x="463.20" y="460.0" width="6.61" height="13.3" fill="#fff0eb"/>
<rect x="469.51" y="460.0" width="6.61" height="13.3" fill="#ffc8c8"/>
<rect x="475.82" y="460.0" width="6.61" height="13.3" fill="#ffa5a5"/>
<rect x="482.12" y="460.0" width="6.61" height="13.3" fill="#ff8282"/>
<rect x="488.43" y="460.0" width="6.61" height="13.3" fill="#ff5a5a"/>
<rect x="494.74" y="460.0" width="6.61" height="13.3" fill="#ff3232"/>
<rect x="501.05" y="460.0" width="6.61" height="13.3" fill="#ff0000"/>
<rect x="507.35" y="460.0" width="6.61" height="13.3" fill="#eb0000"/>
<rect x="513.66" y="460.0" width="6.61" height="13.3" fill="#d70000"/>
<rect x="519.97" y="460.0" width="6.61" height="13.3" fill="#c30000"/>
<rect x="526.28" y="460.0" width="6.61" height="13.3" fill="#ac0000"/>
<rect x="532.58" y="460.0" width="6.61" height="13.3" fill="#940000"/>
<rect x="538.89" y="460.0" width="6.61" height="13.3" fill="#780000"/>
<line x1="387.51" y1="460.0" x2="387.51" y2="473.3" stroke="#000" stroke-opacity="0.25" stroke-width="0.8"/>
<line x1="393.82" y1="460.0" x2="393.82" y2="473.3" stroke="#000" stroke-opacity="0.25" stroke-width="0.8"/>
<line x1="400.12" y1="460.0" x2="400.12" y2="473.3" stroke="#000" stroke-opacity="0.25" stroke-width="0.8"/>
<line x1="406.43" y1="460.0" x2="406.43" y2="473.3" stroke="#000" stroke-opacity="0.25" stroke-width="0.8"/>
<line x1="412.74" y1="460.0" x2="412.74" y2="473.3" stroke="#000" stroke-opacity="0.25" stroke-width="0.8"/>
<line x1="419.05" y1="460.0" x2="419.05" y2="473.3" stroke="#000" stroke-opacity="0.25" stroke-width="0.8"/>
<line x1="425.35" y1="460.0" x2="425.35" y2="473.3" stroke="#000" stroke-opacity="0.25" stroke-width="0.8"/>
<line x1="431.66" y1="460.0" x2="431.66" y2="473.3" stroke="#000" stroke-opacity="0.25" stroke-width="0.8"/>
<line x1="437.97" y1="460.0" x2="437.97" y2="473.3" stroke="#000" stroke-opacity="0.25" stroke-width="0.8"/>
<line x1="444.28" y1="460.0" x2="444.28" y2="473.3" stroke="#000" stroke-opacity="0.25" stroke-width="0.8"/>
<line x1="450.58" y1="460.0" x2="450.58" y2="473.3" stroke="#000" stroke-opacity="0.25" stroke-width="0.8"/>
<line x1="456.89" y1="460.0" x2="456.89" y2="473.3" stroke="#000" stroke-opacity="0.25" stroke-width="0.8"/>
<line x1="463.20" y1="460.0" x2="463.20" y2="473.3" stroke="#000" stroke-opacity="0.25" stroke-width="0.8"/>
<line x1="469.51" y1="460.0" x2="469.51" y2="473.3" stroke="#000" stroke-opacity="0.25" stroke-width="0.8"/>
<line x1="475.82" y1="460.0" x2="475.82" y2="473.3" stroke="#000" stroke-opacity="0.25" stroke-width="0.8"/>
<line x1="482.12" y1="460.0" x2="482.12" y2="473.3" stroke="#000" stroke-opacity="0.25" stroke-width="0.8"/>
<line x1="488.43" y1="460.0" x2="488.43" y2="473.3" stroke="#000" stroke-opacity="0.25" stroke-width="0.8"/>
<line x1="494.74" y1="460.0" x2="494.74" y2="473.3" stroke="#000" stroke-opacity="0.25" stroke-width="0.8"/>
<line x1="501.05" y1="460.0" x2="501.05" y2="473.3" stroke="#000" stroke-opacity="0.25" stroke-width="0.8"/>
<line x1="507.35" y1="460.0" x2="507.35" y2="473.3" stroke="#000" stroke-opacity="0.25" stroke-width="0.8"/>
<line x1="513.66" y1="460.0" x2="513.66" y2="473.3" stroke="#000" stroke-opacity="0.25" stroke-width="0.8"/>
<line x1="519.97" y1="460.0" x2="519.97" y2="473.3" stroke="#000" stroke-opacity="0.25" stroke-width="0.8"/>
<line x1="526.28" y1="460.0" x2="526.28" y2="473.3" stroke="#000" stroke-opacity="0.25" stroke-width="0.8"/>
<line x1="532.58" y1="460.0" x2="532.58" y2="473.3" stroke="#000" stroke-opacity="0.25" stroke-width="0.8"/>
<line x1="538.89" y1="460.0" x2="538.89" y2="473.3" stroke="#000" stroke-opacity="0.25" stroke-width="0.8"/>
<rect x="381.2" y="460.0" width="164.0" height="13.3" fill="none" stroke="#555" stroke-width="0.8"/>
<text filter="url(#tb)" x="387.5" y="483.9" font-size="9.5" text-anchor="middle">-6</text>
<text filter="url(#tb)" x="400.1" y="483.9" font-size="9.5" text-anchor="middle">-5</text>
<text filter="url(#tb)" x="412.7" y="483.9" font-size="9.5" text-anchor="middle">-4</text>
<text filter="url(#tb)" x="425.4" y="483.9" font-size="9.5" text-anchor="middle">-3</text>
<text filter="url(#tb)" x="438.0" y="483.9" font-size="9.5" text-anchor="middle">-2</text>
<text filter="url(#tb)" x="450.6" y="483.9" font-size="9.5" text-anchor="middle">-1</text>
<text filter="url(#tb)" x="463.2" y="483.9" font-size="9.5" text-anchor="middle">0</text>
<text filter="url(#tb)" x="475.8" y="483.9" font-size="9.5" text-anchor="middle">1</text>
<text filter="url(#tb)" x="488.4" y="483.9" font-size="9.5" text-anchor="middle">2</text>
<text filter="url(#tb)" x="501.0" y="483.9" font-size="9.5" text-anchor="middle">3</text>
<text filter="url(#tb)" x="513.7" y="483.9" font-size="9.5" text-anchor="middle">4</text>
<text filter="url(#tb)" x="526.3" y="483.9" font-size="9.5" text-anchor="middle">5</text>
<text filter="url(#tb)" x="538.9" y="483.9" font-size="9.5" text-anchor="middle">6</text>
<rect x="95" y="240" width="50" height="28" fill="#fff"/>
<rect x="138.6" y="262" width="1.6" height="5" fill="#111"/>
</svg></body></html>
